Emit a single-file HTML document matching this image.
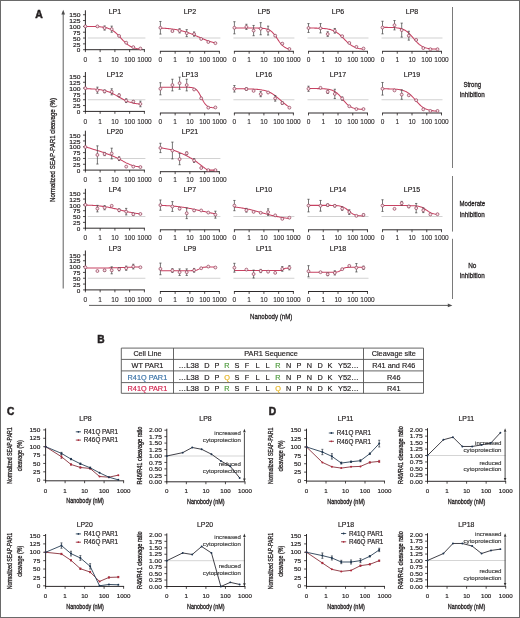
<!DOCTYPE html>
<html><head><meta charset="utf-8"><style>
html,body{margin:0;padding:0;background:#fff;}
svg{display:block;will-change:transform;}
text{font-family:"Liberation Sans",sans-serif;}
</style></head><body>
<svg width="520" height="618" viewBox="0 0 520 618" fill="#231f20">
<rect width="520" height="618" fill="#fff"/>
<text x="114.90" y="13.90" font-size="7.0" stroke="#231f20" stroke-width="0.18" text-anchor="middle" >LP1</text>
<line x1="87.80" y1="38.04" x2="145.40" y2="38.04" stroke="#d2d2d2" stroke-width="1.1" />
<line x1="84.95" y1="49.70" x2="144.90" y2="49.70" stroke="#231f20" stroke-width="0.95" />
<line x1="85.40" y1="49.70" x2="85.40" y2="52.10" stroke="#231f20" stroke-width="0.8" />
<text x="85.40" y="61.90" font-size="6.5" stroke="#231f20" stroke-width="0.1" text-anchor="middle" >0</text>
<line x1="100.15" y1="49.70" x2="100.15" y2="52.10" stroke="#231f20" stroke-width="0.8" />
<text x="100.15" y="61.90" font-size="6.5" stroke="#231f20" stroke-width="0.1" text-anchor="middle" >1</text>
<line x1="114.90" y1="49.70" x2="114.90" y2="52.10" stroke="#231f20" stroke-width="0.8" />
<text x="114.90" y="61.90" font-size="6.5" stroke="#231f20" stroke-width="0.1" text-anchor="middle" >10</text>
<line x1="129.65" y1="49.70" x2="129.65" y2="52.10" stroke="#231f20" stroke-width="0.8" />
<text x="129.65" y="61.90" font-size="6.5" stroke="#231f20" stroke-width="0.1" text-anchor="middle" >100</text>
<line x1="144.40" y1="49.70" x2="144.40" y2="52.10" stroke="#231f20" stroke-width="0.8" />
<text x="144.40" y="61.90" font-size="6.5" stroke="#231f20" stroke-width="0.1" text-anchor="middle" >1000</text>
<line x1="85.40" y1="50.15" x2="85.40" y2="10.30" stroke="#231f20" stroke-width="0.95" />
<line x1="83.00" y1="49.70" x2="85.40" y2="49.70" stroke="#231f20" stroke-width="0.8" />
<text x="80.40" y="52.40" font-size="6.0" stroke="#231f20" stroke-width="0.18" text-anchor="end" textLength="3.55" lengthAdjust="spacingAndGlyphs" >0</text>
<line x1="83.00" y1="43.87" x2="85.40" y2="43.87" stroke="#231f20" stroke-width="0.8" />
<text x="80.40" y="46.57" font-size="6.0" stroke="#231f20" stroke-width="0.18" text-anchor="end" textLength="7.40" lengthAdjust="spacingAndGlyphs" >25</text>
<line x1="83.00" y1="38.04" x2="85.40" y2="38.04" stroke="#231f20" stroke-width="0.8" />
<text x="80.40" y="40.74" font-size="6.0" stroke="#231f20" stroke-width="0.18" text-anchor="end" textLength="7.40" lengthAdjust="spacingAndGlyphs" >50</text>
<line x1="83.00" y1="32.21" x2="85.40" y2="32.21" stroke="#231f20" stroke-width="0.8" />
<text x="80.40" y="34.91" font-size="6.0" stroke="#231f20" stroke-width="0.18" text-anchor="end" textLength="7.40" lengthAdjust="spacingAndGlyphs" >75</text>
<line x1="83.00" y1="26.38" x2="85.40" y2="26.38" stroke="#231f20" stroke-width="0.8" />
<text x="80.40" y="29.08" font-size="6.0" stroke="#231f20" stroke-width="0.18" text-anchor="end" textLength="11.25" lengthAdjust="spacingAndGlyphs" >100</text>
<line x1="83.00" y1="20.55" x2="85.40" y2="20.55" stroke="#231f20" stroke-width="0.8" />
<text x="80.40" y="23.25" font-size="6.0" stroke="#231f20" stroke-width="0.18" text-anchor="end" textLength="11.25" lengthAdjust="spacingAndGlyphs" >125</text>
<line x1="83.00" y1="14.72" x2="85.40" y2="14.72" stroke="#231f20" stroke-width="0.8" />
<text x="80.40" y="17.42" font-size="6.0" stroke="#231f20" stroke-width="0.18" text-anchor="end" textLength="11.25" lengthAdjust="spacingAndGlyphs" >150</text>
<polyline points="85.40,26.41 86.32,26.42 87.23,26.42 88.15,26.43 89.07,26.44 89.98,26.45 90.90,26.46 91.82,26.48 92.73,26.50 93.65,26.52 94.57,26.55 95.48,26.58 96.40,26.61 97.32,26.66 98.23,26.71 99.15,26.77 100.07,26.84 100.98,26.93 101.90,27.03 102.82,27.14 103.73,27.28 104.65,27.44 105.57,27.63 106.48,27.85 107.40,28.10 108.32,28.40 109.23,28.74 110.15,29.13 111.07,29.57 111.98,30.07 112.90,30.64 113.82,31.27 114.73,31.97 115.65,32.73 116.57,33.55 117.48,34.43 118.40,35.36 119.32,36.32 120.23,37.31 121.15,38.31 122.07,39.31 122.98,40.29 123.90,41.23 124.82,42.14 125.73,42.99 126.65,43.78 127.57,44.50 128.48,45.16 129.40,45.76 130.32,46.29 131.23,46.76 132.15,47.17 133.07,47.53 133.98,47.85 134.90,48.12 135.82,48.36 136.73,48.56 137.65,48.73 138.57,48.88 139.48,49.00 140.40,49.11" fill="none" stroke="#c84262" stroke-width="1.05"/>
<circle cx="85.40" cy="26.38" r="1.45" fill="#fbe4e9" stroke="#8f3a55" stroke-width="0.7"/>
<circle cx="97.40" cy="26.38" r="1.45" fill="#fbe4e9" stroke="#8f3a55" stroke-width="0.7"/>
<path d="M104.60 25.91V30.11M103.50 25.91h2.2M103.50 30.11h2.2" stroke="#4a4a4a" stroke-width="0.75" fill="none"/>
<circle cx="104.60" cy="28.01" r="1.45" fill="#fbe4e9" stroke="#8f3a55" stroke-width="0.7"/>
<path d="M111.70 26.15V32.21M110.60 26.15h2.2M110.60 32.21h2.2" stroke="#4a4a4a" stroke-width="0.75" fill="none"/>
<circle cx="111.70" cy="29.18" r="1.45" fill="#fbe4e9" stroke="#8f3a55" stroke-width="0.7"/>
<circle cx="119.10" cy="35.94" r="1.45" fill="#fbe4e9" stroke="#8f3a55" stroke-width="0.7"/>
<circle cx="126.20" cy="42.70" r="1.45" fill="#fbe4e9" stroke="#8f3a55" stroke-width="0.7"/>
<circle cx="133.30" cy="47.13" r="1.45" fill="#fbe4e9" stroke="#8f3a55" stroke-width="0.7"/>
<circle cx="140.40" cy="48.53" r="1.45" fill="#fbe4e9" stroke="#8f3a55" stroke-width="0.7"/>
<text x="189.90" y="13.90" font-size="7.0" stroke="#231f20" stroke-width="0.18" text-anchor="middle" >LP2</text>
<line x1="159.40" y1="38.04" x2="220.40" y2="38.04" stroke="#d2d2d2" stroke-width="1.1" />
<line x1="159.95" y1="51.30" x2="219.90" y2="51.30" stroke="#231f20" stroke-width="0.95" />
<line x1="160.40" y1="51.30" x2="160.40" y2="53.70" stroke="#231f20" stroke-width="0.8" />
<text x="160.40" y="61.90" font-size="6.5" stroke="#231f20" stroke-width="0.1" text-anchor="middle" >0</text>
<line x1="175.15" y1="51.30" x2="175.15" y2="53.70" stroke="#231f20" stroke-width="0.8" />
<text x="175.15" y="61.90" font-size="6.5" stroke="#231f20" stroke-width="0.1" text-anchor="middle" >1</text>
<line x1="189.90" y1="51.30" x2="189.90" y2="53.70" stroke="#231f20" stroke-width="0.8" />
<text x="189.90" y="61.90" font-size="6.5" stroke="#231f20" stroke-width="0.1" text-anchor="middle" >10</text>
<line x1="204.65" y1="51.30" x2="204.65" y2="53.70" stroke="#231f20" stroke-width="0.8" />
<text x="204.65" y="61.90" font-size="6.5" stroke="#231f20" stroke-width="0.1" text-anchor="middle" >100</text>
<line x1="219.40" y1="51.30" x2="219.40" y2="53.70" stroke="#231f20" stroke-width="0.8" />
<text x="219.40" y="61.90" font-size="6.5" stroke="#231f20" stroke-width="0.1" text-anchor="middle" >1000</text>
<polyline points="160.40,28.06 161.32,28.11 162.23,28.16 163.15,28.21 164.07,28.27 164.98,28.33 165.90,28.39 166.82,28.47 167.73,28.54 168.65,28.63 169.57,28.72 170.48,28.82 171.40,28.92 172.32,29.04 173.23,29.16 174.15,29.29 175.07,29.43 175.98,29.58 176.90,29.74 177.82,29.91 178.73,30.10 179.65,30.29 180.57,30.50 181.48,30.72 182.40,30.95 183.32,31.20 184.23,31.46 185.15,31.73 186.07,32.01 186.98,32.31 187.90,32.62 188.82,32.95 189.73,33.28 190.65,33.63 191.57,33.99 192.48,34.35 193.40,34.73 194.32,35.11 195.23,35.50 196.15,35.89 197.07,36.29 197.98,36.69 198.90,37.09 199.82,37.49 200.73,37.89 201.65,38.28 202.57,38.67 203.48,39.05 204.40,39.43 205.32,39.79 206.23,40.15 207.15,40.50 208.07,40.83 208.98,41.15 209.90,41.46 210.82,41.76 211.73,42.04 212.65,42.31 213.57,42.57 214.48,42.82 215.40,43.05" fill="none" stroke="#c84262" stroke-width="1.05"/>
<path d="M160.40 21.48V34.08M159.30 21.48h2.2M159.30 34.08h2.2" stroke="#4a4a4a" stroke-width="0.75" fill="none"/>
<circle cx="160.40" cy="27.78" r="1.45" fill="#fbe4e9" stroke="#8f3a55" stroke-width="0.7"/>
<path d="M172.40 30.34V31.74M171.30 30.34h2.2M171.30 31.74h2.2" stroke="#4a4a4a" stroke-width="0.75" fill="none"/>
<circle cx="172.40" cy="31.04" r="1.45" fill="#fbe4e9" stroke="#8f3a55" stroke-width="0.7"/>
<path d="M179.60 28.71V32.91M178.50 28.71h2.2M178.50 32.91h2.2" stroke="#4a4a4a" stroke-width="0.75" fill="none"/>
<circle cx="179.60" cy="30.81" r="1.45" fill="#fbe4e9" stroke="#8f3a55" stroke-width="0.7"/>
<path d="M186.70 29.64V36.64M185.60 29.64h2.2M185.60 36.64h2.2" stroke="#4a4a4a" stroke-width="0.75" fill="none"/>
<circle cx="186.70" cy="33.14" r="1.45" fill="#fbe4e9" stroke="#8f3a55" stroke-width="0.7"/>
<path d="M194.10 31.98V36.17M193.00 31.98h2.2M193.00 36.17h2.2" stroke="#4a4a4a" stroke-width="0.75" fill="none"/>
<circle cx="194.10" cy="34.08" r="1.45" fill="#fbe4e9" stroke="#8f3a55" stroke-width="0.7"/>
<circle cx="201.20" cy="38.97" r="1.45" fill="#fbe4e9" stroke="#8f3a55" stroke-width="0.7"/>
<circle cx="208.30" cy="42.00" r="1.45" fill="#fbe4e9" stroke="#8f3a55" stroke-width="0.7"/>
<circle cx="215.40" cy="43.17" r="1.45" fill="#fbe4e9" stroke="#8f3a55" stroke-width="0.7"/>
<text x="263.90" y="13.90" font-size="7.0" stroke="#231f20" stroke-width="0.18" text-anchor="middle" >LP5</text>
<line x1="233.40" y1="38.04" x2="294.40" y2="38.04" stroke="#d2d2d2" stroke-width="1.1" />
<line x1="233.95" y1="51.30" x2="293.90" y2="51.30" stroke="#231f20" stroke-width="0.95" />
<line x1="234.40" y1="51.30" x2="234.40" y2="53.70" stroke="#231f20" stroke-width="0.8" />
<text x="234.40" y="61.90" font-size="6.5" stroke="#231f20" stroke-width="0.1" text-anchor="middle" >0</text>
<line x1="249.15" y1="51.30" x2="249.15" y2="53.70" stroke="#231f20" stroke-width="0.8" />
<text x="249.15" y="61.90" font-size="6.5" stroke="#231f20" stroke-width="0.1" text-anchor="middle" >1</text>
<line x1="263.90" y1="51.30" x2="263.90" y2="53.70" stroke="#231f20" stroke-width="0.8" />
<text x="263.90" y="61.90" font-size="6.5" stroke="#231f20" stroke-width="0.1" text-anchor="middle" >10</text>
<line x1="278.65" y1="51.30" x2="278.65" y2="53.70" stroke="#231f20" stroke-width="0.8" />
<text x="278.65" y="61.90" font-size="6.5" stroke="#231f20" stroke-width="0.1" text-anchor="middle" >100</text>
<line x1="293.40" y1="51.30" x2="293.40" y2="53.70" stroke="#231f20" stroke-width="0.8" />
<text x="293.40" y="61.90" font-size="6.5" stroke="#231f20" stroke-width="0.1" text-anchor="middle" >1000</text>
<polyline points="234.40,28.01 235.32,28.01 236.23,28.01 237.15,28.01 238.07,28.01 238.98,28.01 239.90,28.01 240.82,28.01 241.73,28.01 242.65,28.01 243.57,28.01 244.48,28.01 245.40,28.02 246.32,28.02 247.23,28.02 248.15,28.02 249.07,28.02 249.98,28.02 250.90,28.03 251.82,28.03 252.73,28.03 253.65,28.04 254.57,28.05 255.48,28.06 256.40,28.07 257.32,28.09 258.23,28.11 259.15,28.14 260.07,28.18 260.98,28.23 261.90,28.29 262.82,28.37 263.73,28.47 264.65,28.60 265.57,28.77 266.48,28.98 267.40,29.24 268.32,29.58 269.23,30.00 270.15,30.51 271.07,31.14 271.98,31.90 272.90,32.79 273.82,33.82 274.73,34.97 275.65,36.24 276.57,37.59 277.48,38.98 278.40,40.37 279.32,41.71 280.23,42.96 281.15,44.09 282.07,45.10 282.98,45.96 283.90,46.69 284.82,47.30 285.73,47.80 286.65,48.20 287.57,48.52 288.48,48.78 289.40,48.98" fill="none" stroke="#c84262" stroke-width="1.05"/>
<path d="M234.40 21.72V33.84M233.30 21.72h2.2M233.30 33.84h2.2" stroke="#4a4a4a" stroke-width="0.75" fill="none"/>
<circle cx="234.40" cy="27.78" r="1.45" fill="#fbe4e9" stroke="#8f3a55" stroke-width="0.7"/>
<path d="M246.40 24.28V29.41M245.30 24.28h2.2M245.30 29.41h2.2" stroke="#4a4a4a" stroke-width="0.75" fill="none"/>
<circle cx="246.40" cy="26.85" r="1.45" fill="#fbe4e9" stroke="#8f3a55" stroke-width="0.7"/>
<path d="M253.60 25.45V35.71M252.50 25.45h2.2M252.50 35.71h2.2" stroke="#4a4a4a" stroke-width="0.75" fill="none"/>
<circle cx="253.60" cy="30.58" r="1.45" fill="#fbe4e9" stroke="#8f3a55" stroke-width="0.7"/>
<path d="M260.70 22.65V34.78M259.60 22.65h2.2M259.60 34.78h2.2" stroke="#4a4a4a" stroke-width="0.75" fill="none"/>
<circle cx="260.70" cy="28.71" r="1.45" fill="#fbe4e9" stroke="#8f3a55" stroke-width="0.7"/>
<path d="M268.10 26.15V35.01M267.00 26.15h2.2M267.00 35.01h2.2" stroke="#4a4a4a" stroke-width="0.75" fill="none"/>
<circle cx="268.10" cy="30.58" r="1.45" fill="#fbe4e9" stroke="#8f3a55" stroke-width="0.7"/>
<path d="M275.20 35.01V36.41M274.10 35.01h2.2M274.10 36.41h2.2" stroke="#4a4a4a" stroke-width="0.75" fill="none"/>
<circle cx="275.20" cy="35.71" r="1.45" fill="#fbe4e9" stroke="#8f3a55" stroke-width="0.7"/>
<path d="M282.30 43.17V44.10M281.20 43.17h2.2M281.20 44.10h2.2" stroke="#4a4a4a" stroke-width="0.75" fill="none"/>
<circle cx="282.30" cy="43.64" r="1.45" fill="#fbe4e9" stroke="#8f3a55" stroke-width="0.7"/>
<circle cx="289.40" cy="49.00" r="1.45" fill="#fbe4e9" stroke="#8f3a55" stroke-width="0.7"/>
<text x="338.00" y="13.90" font-size="7.0" stroke="#231f20" stroke-width="0.18" text-anchor="middle" >LP6</text>
<line x1="307.50" y1="38.04" x2="368.50" y2="38.04" stroke="#d2d2d2" stroke-width="1.1" />
<line x1="308.05" y1="51.30" x2="368.00" y2="51.30" stroke="#231f20" stroke-width="0.95" />
<line x1="308.50" y1="51.30" x2="308.50" y2="53.70" stroke="#231f20" stroke-width="0.8" />
<text x="308.50" y="61.90" font-size="6.5" stroke="#231f20" stroke-width="0.1" text-anchor="middle" >0</text>
<line x1="323.25" y1="51.30" x2="323.25" y2="53.70" stroke="#231f20" stroke-width="0.8" />
<text x="323.25" y="61.90" font-size="6.5" stroke="#231f20" stroke-width="0.1" text-anchor="middle" >1</text>
<line x1="338.00" y1="51.30" x2="338.00" y2="53.70" stroke="#231f20" stroke-width="0.8" />
<text x="338.00" y="61.90" font-size="6.5" stroke="#231f20" stroke-width="0.1" text-anchor="middle" >10</text>
<line x1="352.75" y1="51.30" x2="352.75" y2="53.70" stroke="#231f20" stroke-width="0.8" />
<text x="352.75" y="61.90" font-size="6.5" stroke="#231f20" stroke-width="0.1" text-anchor="middle" >100</text>
<line x1="367.50" y1="51.30" x2="367.50" y2="53.70" stroke="#231f20" stroke-width="0.8" />
<text x="367.50" y="61.90" font-size="6.5" stroke="#231f20" stroke-width="0.1" text-anchor="middle" >1000</text>
<polyline points="308.50,28.04 309.42,28.05 310.33,28.05 311.25,28.06 312.17,28.07 313.08,28.08 314.00,28.09 314.92,28.11 315.83,28.12 316.75,28.14 317.67,28.17 318.58,28.20 319.50,28.23 320.42,28.27 321.33,28.32 322.25,28.37 323.17,28.44 324.08,28.52 325.00,28.61 325.92,28.72 326.83,28.85 327.75,29.00 328.67,29.17 329.58,29.38 330.50,29.61 331.42,29.89 332.33,30.20 333.25,30.57 334.17,30.98 335.08,31.45 336.00,31.97 336.92,32.56 337.83,33.21 338.75,33.92 339.67,34.68 340.58,35.50 341.50,36.36 342.42,37.26 343.33,38.18 344.25,39.11 345.17,40.04 346.08,40.95 347.00,41.83 347.92,42.66 348.83,43.46 349.75,44.19 350.67,44.87 351.58,45.48 352.50,46.03 353.42,46.53 354.33,46.96 355.25,47.35 356.17,47.69 357.08,47.98 358.00,48.23 358.92,48.45 359.83,48.64 360.75,48.80 361.67,48.94 362.58,49.05 363.50,49.15" fill="none" stroke="#c84262" stroke-width="1.05"/>
<path d="M308.50 23.58V32.44M307.40 23.58h2.2M307.40 32.44h2.2" stroke="#4a4a4a" stroke-width="0.75" fill="none"/>
<circle cx="308.50" cy="28.01" r="1.45" fill="#fbe4e9" stroke="#8f3a55" stroke-width="0.7"/>
<path d="M320.50 23.58V32.91M319.40 23.58h2.2M319.40 32.91h2.2" stroke="#4a4a4a" stroke-width="0.75" fill="none"/>
<circle cx="320.50" cy="28.25" r="1.45" fill="#fbe4e9" stroke="#8f3a55" stroke-width="0.7"/>
<path d="M327.70 31.74V36.41M326.60 31.74h2.2M326.60 36.41h2.2" stroke="#4a4a4a" stroke-width="0.75" fill="none"/>
<circle cx="327.70" cy="34.08" r="1.45" fill="#fbe4e9" stroke="#8f3a55" stroke-width="0.7"/>
<path d="M334.80 28.48V33.14M333.70 28.48h2.2M333.70 33.14h2.2" stroke="#4a4a4a" stroke-width="0.75" fill="none"/>
<circle cx="334.80" cy="30.81" r="1.45" fill="#fbe4e9" stroke="#8f3a55" stroke-width="0.7"/>
<circle cx="342.20" cy="36.17" r="1.45" fill="#fbe4e9" stroke="#8f3a55" stroke-width="0.7"/>
<circle cx="349.30" cy="42.94" r="1.45" fill="#fbe4e9" stroke="#8f3a55" stroke-width="0.7"/>
<circle cx="356.40" cy="46.90" r="1.45" fill="#fbe4e9" stroke="#8f3a55" stroke-width="0.7"/>
<circle cx="363.50" cy="48.53" r="1.45" fill="#fbe4e9" stroke="#8f3a55" stroke-width="0.7"/>
<text x="412.00" y="13.90" font-size="7.0" stroke="#231f20" stroke-width="0.18" text-anchor="middle" >LP8</text>
<line x1="381.50" y1="38.04" x2="442.50" y2="38.04" stroke="#d2d2d2" stroke-width="1.1" />
<line x1="382.05" y1="51.30" x2="442.00" y2="51.30" stroke="#231f20" stroke-width="0.95" />
<line x1="382.50" y1="51.30" x2="382.50" y2="53.70" stroke="#231f20" stroke-width="0.8" />
<text x="382.50" y="61.90" font-size="6.5" stroke="#231f20" stroke-width="0.1" text-anchor="middle" >0</text>
<line x1="397.25" y1="51.30" x2="397.25" y2="53.70" stroke="#231f20" stroke-width="0.8" />
<text x="397.25" y="61.90" font-size="6.5" stroke="#231f20" stroke-width="0.1" text-anchor="middle" >1</text>
<line x1="412.00" y1="51.30" x2="412.00" y2="53.70" stroke="#231f20" stroke-width="0.8" />
<text x="412.00" y="61.90" font-size="6.5" stroke="#231f20" stroke-width="0.1" text-anchor="middle" >10</text>
<line x1="426.75" y1="51.30" x2="426.75" y2="53.70" stroke="#231f20" stroke-width="0.8" />
<text x="426.75" y="61.90" font-size="6.5" stroke="#231f20" stroke-width="0.1" text-anchor="middle" >100</text>
<line x1="441.50" y1="51.30" x2="441.50" y2="53.70" stroke="#231f20" stroke-width="0.8" />
<text x="441.50" y="61.90" font-size="6.5" stroke="#231f20" stroke-width="0.1" text-anchor="middle" >1000</text>
<polyline points="382.50,27.34 383.42,27.34 384.33,27.35 385.25,27.36 386.17,27.37 387.08,27.38 388.00,27.40 388.92,27.41 389.83,27.44 390.75,27.46 391.67,27.50 392.58,27.54 393.50,27.59 394.42,27.65 395.33,27.72 396.25,27.81 397.17,27.91 398.08,28.04 399.00,28.20 399.92,28.38 400.83,28.61 401.75,28.87 402.67,29.19 403.58,29.56 404.50,30.00 405.42,30.51 406.33,31.10 407.25,31.77 408.17,32.52 409.08,33.36 410.00,34.27 410.92,35.26 411.83,36.30 412.75,37.38 413.67,38.47 414.58,39.56 415.50,40.63 416.42,41.65 417.33,42.61 418.25,43.50 419.17,44.31 420.08,45.03 421.00,45.67 421.92,46.23 422.83,46.71 423.75,47.12 424.67,47.48 425.58,47.77 426.50,48.02 427.42,48.23 428.33,48.41 429.25,48.55 430.17,48.67 431.08,48.77 432.00,48.86 432.92,48.92 433.83,48.98 434.75,49.02 435.67,49.06 436.58,49.09 437.50,49.12" fill="none" stroke="#c84262" stroke-width="1.05"/>
<path d="M382.50 21.25V33.84M381.40 21.25h2.2M381.40 33.84h2.2" stroke="#4a4a4a" stroke-width="0.75" fill="none"/>
<circle cx="382.50" cy="27.55" r="1.45" fill="#fbe4e9" stroke="#8f3a55" stroke-width="0.7"/>
<path d="M394.50 20.55V29.88M393.40 20.55h2.2M393.40 29.88h2.2" stroke="#4a4a4a" stroke-width="0.75" fill="none"/>
<circle cx="394.50" cy="25.21" r="1.45" fill="#fbe4e9" stroke="#8f3a55" stroke-width="0.7"/>
<path d="M401.70 23.12V37.11M400.60 23.12h2.2M400.60 37.11h2.2" stroke="#4a4a4a" stroke-width="0.75" fill="none"/>
<circle cx="401.70" cy="30.11" r="1.45" fill="#fbe4e9" stroke="#8f3a55" stroke-width="0.7"/>
<path d="M408.80 31.28V40.14M407.70 31.28h2.2M407.70 40.14h2.2" stroke="#4a4a4a" stroke-width="0.75" fill="none"/>
<circle cx="408.80" cy="35.71" r="1.45" fill="#fbe4e9" stroke="#8f3a55" stroke-width="0.7"/>
<circle cx="416.20" cy="39.91" r="1.45" fill="#fbe4e9" stroke="#8f3a55" stroke-width="0.7"/>
<circle cx="423.30" cy="48.07" r="1.45" fill="#fbe4e9" stroke="#8f3a55" stroke-width="0.7"/>
<circle cx="430.40" cy="49.23" r="1.45" fill="#fbe4e9" stroke="#8f3a55" stroke-width="0.7"/>
<circle cx="437.50" cy="49.23" r="1.45" fill="#fbe4e9" stroke="#8f3a55" stroke-width="0.7"/>
<text x="114.90" y="76.50" font-size="7.0" stroke="#231f20" stroke-width="0.18" text-anchor="middle" >LP12</text>
<line x1="87.80" y1="99.74" x2="145.40" y2="99.74" stroke="#d2d2d2" stroke-width="1.1" />
<line x1="84.95" y1="111.40" x2="144.90" y2="111.40" stroke="#231f20" stroke-width="0.95" />
<line x1="85.40" y1="111.40" x2="85.40" y2="113.80" stroke="#231f20" stroke-width="0.8" />
<text x="85.40" y="123.60" font-size="6.5" stroke="#231f20" stroke-width="0.1" text-anchor="middle" >0</text>
<line x1="100.15" y1="111.40" x2="100.15" y2="113.80" stroke="#231f20" stroke-width="0.8" />
<text x="100.15" y="123.60" font-size="6.5" stroke="#231f20" stroke-width="0.1" text-anchor="middle" >1</text>
<line x1="114.90" y1="111.40" x2="114.90" y2="113.80" stroke="#231f20" stroke-width="0.8" />
<text x="114.90" y="123.60" font-size="6.5" stroke="#231f20" stroke-width="0.1" text-anchor="middle" >10</text>
<line x1="129.65" y1="111.40" x2="129.65" y2="113.80" stroke="#231f20" stroke-width="0.8" />
<text x="129.65" y="123.60" font-size="6.5" stroke="#231f20" stroke-width="0.1" text-anchor="middle" >100</text>
<line x1="144.40" y1="111.40" x2="144.40" y2="113.80" stroke="#231f20" stroke-width="0.8" />
<text x="144.40" y="123.60" font-size="6.5" stroke="#231f20" stroke-width="0.1" text-anchor="middle" >1000</text>
<line x1="85.40" y1="111.85" x2="85.40" y2="72.00" stroke="#231f20" stroke-width="0.95" />
<line x1="83.00" y1="111.40" x2="85.40" y2="111.40" stroke="#231f20" stroke-width="0.8" />
<text x="80.40" y="114.10" font-size="6.0" stroke="#231f20" stroke-width="0.18" text-anchor="end" textLength="3.55" lengthAdjust="spacingAndGlyphs" >0</text>
<line x1="83.00" y1="105.57" x2="85.40" y2="105.57" stroke="#231f20" stroke-width="0.8" />
<text x="80.40" y="108.27" font-size="6.0" stroke="#231f20" stroke-width="0.18" text-anchor="end" textLength="7.40" lengthAdjust="spacingAndGlyphs" >25</text>
<line x1="83.00" y1="99.74" x2="85.40" y2="99.74" stroke="#231f20" stroke-width="0.8" />
<text x="80.40" y="102.44" font-size="6.0" stroke="#231f20" stroke-width="0.18" text-anchor="end" textLength="7.40" lengthAdjust="spacingAndGlyphs" >50</text>
<line x1="83.00" y1="93.91" x2="85.40" y2="93.91" stroke="#231f20" stroke-width="0.8" />
<text x="80.40" y="96.61" font-size="6.0" stroke="#231f20" stroke-width="0.18" text-anchor="end" textLength="7.40" lengthAdjust="spacingAndGlyphs" >75</text>
<line x1="83.00" y1="88.08" x2="85.40" y2="88.08" stroke="#231f20" stroke-width="0.8" />
<text x="80.40" y="90.78" font-size="6.0" stroke="#231f20" stroke-width="0.18" text-anchor="end" textLength="11.25" lengthAdjust="spacingAndGlyphs" >100</text>
<line x1="83.00" y1="82.25" x2="85.40" y2="82.25" stroke="#231f20" stroke-width="0.8" />
<text x="80.40" y="84.95" font-size="6.0" stroke="#231f20" stroke-width="0.18" text-anchor="end" textLength="11.25" lengthAdjust="spacingAndGlyphs" >125</text>
<line x1="83.00" y1="76.42" x2="85.40" y2="76.42" stroke="#231f20" stroke-width="0.8" />
<text x="80.40" y="79.12" font-size="6.0" stroke="#231f20" stroke-width="0.18" text-anchor="end" textLength="11.25" lengthAdjust="spacingAndGlyphs" >150</text>
<polyline points="85.40,88.70 86.32,88.72 87.23,88.75 88.15,88.78 89.07,88.81 89.98,88.84 90.90,88.88 91.82,88.93 92.73,88.98 93.65,89.04 94.57,89.10 95.48,89.17 96.40,89.26 97.32,89.35 98.23,89.45 99.15,89.57 100.07,89.70 100.98,89.85 101.90,90.01 102.82,90.19 103.73,90.39 104.65,90.61 105.57,90.86 106.48,91.12 107.40,91.42 108.32,91.73 109.23,92.08 110.15,92.45 111.07,92.84 111.98,93.26 112.90,93.70 113.82,94.17 114.73,94.65 115.65,95.15 116.57,95.66 117.48,96.18 118.40,96.71 119.32,97.23 120.23,97.75 121.15,98.27 122.07,98.77 122.98,99.25 123.90,99.71 124.82,100.16 125.73,100.58 126.65,100.97 127.57,101.34 128.48,101.68 129.40,102.00 130.32,102.29 131.23,102.56 132.15,102.80 133.07,103.03 133.98,103.23 134.90,103.41 135.82,103.57 136.73,103.72 137.65,103.85 138.57,103.96 139.48,104.07 140.40,104.16" fill="none" stroke="#c84262" stroke-width="1.05"/>
<circle cx="85.40" cy="88.20" r="1.45" fill="#fbe4e9" stroke="#8f3a55" stroke-width="0.7"/>
<path d="M97.40 87.15V93.21M96.30 87.15h2.2M96.30 93.21h2.2" stroke="#4a4a4a" stroke-width="0.75" fill="none"/>
<circle cx="97.40" cy="90.18" r="1.45" fill="#fbe4e9" stroke="#8f3a55" stroke-width="0.7"/>
<path d="M104.60 89.95V92.74M103.50 89.95h2.2M103.50 92.74h2.2" stroke="#4a4a4a" stroke-width="0.75" fill="none"/>
<circle cx="104.60" cy="91.34" r="1.45" fill="#fbe4e9" stroke="#8f3a55" stroke-width="0.7"/>
<path d="M111.70 88.78V94.84M110.60 88.78h2.2M110.60 94.84h2.2" stroke="#4a4a4a" stroke-width="0.75" fill="none"/>
<circle cx="111.70" cy="91.81" r="1.45" fill="#fbe4e9" stroke="#8f3a55" stroke-width="0.7"/>
<path d="M119.10 93.91V96.71M118.00 93.91h2.2M118.00 96.71h2.2" stroke="#4a4a4a" stroke-width="0.75" fill="none"/>
<circle cx="119.10" cy="95.31" r="1.45" fill="#fbe4e9" stroke="#8f3a55" stroke-width="0.7"/>
<path d="M126.20 98.81V102.54M125.10 98.81h2.2M125.10 102.54h2.2" stroke="#4a4a4a" stroke-width="0.75" fill="none"/>
<circle cx="126.20" cy="100.67" r="1.45" fill="#fbe4e9" stroke="#8f3a55" stroke-width="0.7"/>
<path d="M133.30 100.67V102.54M132.20 100.67h2.2M132.20 102.54h2.2" stroke="#4a4a4a" stroke-width="0.75" fill="none"/>
<circle cx="133.30" cy="101.61" r="1.45" fill="#fbe4e9" stroke="#8f3a55" stroke-width="0.7"/>
<path d="M140.40 101.14V106.74M139.30 101.14h2.2M139.30 106.74h2.2" stroke="#4a4a4a" stroke-width="0.75" fill="none"/>
<circle cx="140.40" cy="103.94" r="1.45" fill="#fbe4e9" stroke="#8f3a55" stroke-width="0.7"/>
<text x="189.90" y="76.50" font-size="7.0" stroke="#231f20" stroke-width="0.18" text-anchor="middle" >LP13</text>
<line x1="159.40" y1="99.74" x2="220.40" y2="99.74" stroke="#d2d2d2" stroke-width="1.1" />
<line x1="159.95" y1="113.00" x2="219.90" y2="113.00" stroke="#231f20" stroke-width="0.95" />
<line x1="160.40" y1="113.00" x2="160.40" y2="115.40" stroke="#231f20" stroke-width="0.8" />
<text x="160.40" y="123.60" font-size="6.5" stroke="#231f20" stroke-width="0.1" text-anchor="middle" >0</text>
<line x1="175.15" y1="113.00" x2="175.15" y2="115.40" stroke="#231f20" stroke-width="0.8" />
<text x="175.15" y="123.60" font-size="6.5" stroke="#231f20" stroke-width="0.1" text-anchor="middle" >1</text>
<line x1="189.90" y1="113.00" x2="189.90" y2="115.40" stroke="#231f20" stroke-width="0.8" />
<text x="189.90" y="123.60" font-size="6.5" stroke="#231f20" stroke-width="0.1" text-anchor="middle" >10</text>
<line x1="204.65" y1="113.00" x2="204.65" y2="115.40" stroke="#231f20" stroke-width="0.8" />
<text x="204.65" y="123.60" font-size="6.5" stroke="#231f20" stroke-width="0.1" text-anchor="middle" >100</text>
<line x1="219.40" y1="113.00" x2="219.40" y2="115.40" stroke="#231f20" stroke-width="0.8" />
<text x="219.40" y="123.60" font-size="6.5" stroke="#231f20" stroke-width="0.1" text-anchor="middle" >1000</text>
<polyline points="160.40,87.15 161.32,87.15 162.23,87.15 163.15,87.15 164.07,87.15 164.98,87.15 165.90,87.15 166.82,87.15 167.73,87.15 168.65,87.15 169.57,87.15 170.48,87.15 171.40,87.15 172.32,87.15 173.23,87.15 174.15,87.15 175.07,87.15 175.98,87.15 176.90,87.15 177.82,87.15 178.73,87.15 179.65,87.15 180.57,87.15 181.48,87.16 182.40,87.16 183.32,87.17 184.23,87.17 185.15,87.18 186.07,87.20 186.98,87.22 187.90,87.25 188.82,87.30 189.73,87.36 190.65,87.46 191.57,87.58 192.48,87.77 193.40,88.02 194.32,88.38 195.23,88.86 196.15,89.52 197.07,90.38 197.98,91.48 198.90,92.83 199.82,94.42 200.73,96.18 201.65,98.03 202.57,99.85 203.48,101.53 204.40,102.99 205.32,104.20 206.23,105.17 207.15,105.91 208.07,106.47 208.98,106.88 209.90,107.18 210.82,107.39 211.73,107.54 212.65,107.65 213.57,107.72 214.48,107.78 215.40,107.81" fill="none" stroke="#c84262" stroke-width="1.05"/>
<path d="M160.40 82.72V94.84M159.30 82.72h2.2M159.30 94.84h2.2" stroke="#4a4a4a" stroke-width="0.75" fill="none"/>
<circle cx="160.40" cy="88.78" r="1.45" fill="#fbe4e9" stroke="#8f3a55" stroke-width="0.7"/>
<path d="M172.40 79.22V90.88M171.30 79.22h2.2M171.30 90.88h2.2" stroke="#4a4a4a" stroke-width="0.75" fill="none"/>
<circle cx="172.40" cy="85.05" r="1.45" fill="#fbe4e9" stroke="#8f3a55" stroke-width="0.7"/>
<path d="M179.60 77.12V89.25M178.50 77.12h2.2M178.50 89.25h2.2" stroke="#4a4a4a" stroke-width="0.75" fill="none"/>
<circle cx="179.60" cy="83.18" r="1.45" fill="#fbe4e9" stroke="#8f3a55" stroke-width="0.7"/>
<path d="M186.70 79.22V90.88M185.60 79.22h2.2M185.60 90.88h2.2" stroke="#4a4a4a" stroke-width="0.75" fill="none"/>
<circle cx="186.70" cy="85.05" r="1.45" fill="#fbe4e9" stroke="#8f3a55" stroke-width="0.7"/>
<circle cx="194.10" cy="89.48" r="1.45" fill="#fbe4e9" stroke="#8f3a55" stroke-width="0.7"/>
<circle cx="201.20" cy="98.34" r="1.45" fill="#fbe4e9" stroke="#8f3a55" stroke-width="0.7"/>
<circle cx="208.30" cy="107.67" r="1.45" fill="#fbe4e9" stroke="#8f3a55" stroke-width="0.7"/>
<circle cx="215.40" cy="107.44" r="1.45" fill="#fbe4e9" stroke="#8f3a55" stroke-width="0.7"/>
<text x="263.90" y="76.50" font-size="7.0" stroke="#231f20" stroke-width="0.18" text-anchor="middle" >LP16</text>
<line x1="233.40" y1="99.74" x2="294.40" y2="99.74" stroke="#d2d2d2" stroke-width="1.1" />
<line x1="233.95" y1="113.00" x2="293.90" y2="113.00" stroke="#231f20" stroke-width="0.95" />
<line x1="234.40" y1="113.00" x2="234.40" y2="115.40" stroke="#231f20" stroke-width="0.8" />
<text x="234.40" y="123.60" font-size="6.5" stroke="#231f20" stroke-width="0.1" text-anchor="middle" >0</text>
<line x1="249.15" y1="113.00" x2="249.15" y2="115.40" stroke="#231f20" stroke-width="0.8" />
<text x="249.15" y="123.60" font-size="6.5" stroke="#231f20" stroke-width="0.1" text-anchor="middle" >1</text>
<line x1="263.90" y1="113.00" x2="263.90" y2="115.40" stroke="#231f20" stroke-width="0.8" />
<text x="263.90" y="123.60" font-size="6.5" stroke="#231f20" stroke-width="0.1" text-anchor="middle" >10</text>
<line x1="278.65" y1="113.00" x2="278.65" y2="115.40" stroke="#231f20" stroke-width="0.8" />
<text x="278.65" y="123.60" font-size="6.5" stroke="#231f20" stroke-width="0.1" text-anchor="middle" >100</text>
<line x1="293.40" y1="113.00" x2="293.40" y2="115.40" stroke="#231f20" stroke-width="0.8" />
<text x="293.40" y="123.60" font-size="6.5" stroke="#231f20" stroke-width="0.1" text-anchor="middle" >1000</text>
<polyline points="234.40,88.80 235.32,88.80 236.23,88.80 237.15,88.81 238.07,88.81 238.98,88.81 239.90,88.82 240.82,88.83 241.73,88.83 242.65,88.84 243.57,88.85 244.48,88.86 245.40,88.88 246.32,88.89 247.23,88.91 248.15,88.93 249.07,88.95 249.98,88.97 250.90,89.00 251.82,89.04 252.73,89.08 253.65,89.12 254.57,89.17 255.48,89.23 256.40,89.30 257.32,89.38 258.23,89.47 259.15,89.57 260.07,89.69 260.98,89.82 261.90,89.97 262.82,90.15 263.73,90.34 264.65,90.56 265.57,90.81 266.48,91.09 267.40,91.41 268.32,91.76 269.23,92.15 270.15,92.58 271.07,93.05 271.98,93.57 272.90,94.13 273.82,94.74 274.73,95.39 275.65,96.08 276.57,96.80 277.48,97.56 278.40,98.34 279.32,99.14 280.23,99.94 281.15,100.75 282.07,101.55 282.98,102.34 283.90,103.10 284.82,103.84 285.73,104.54 286.65,105.21 287.57,105.83 288.48,106.41 289.40,106.94" fill="none" stroke="#c84262" stroke-width="1.05"/>
<path d="M234.40 85.51V92.04M233.30 85.51h2.2M233.30 92.04h2.2" stroke="#4a4a4a" stroke-width="0.75" fill="none"/>
<circle cx="234.40" cy="88.78" r="1.45" fill="#fbe4e9" stroke="#8f3a55" stroke-width="0.7"/>
<path d="M246.40 87.61V90.41M245.30 87.61h2.2M245.30 90.41h2.2" stroke="#4a4a4a" stroke-width="0.75" fill="none"/>
<circle cx="246.40" cy="89.01" r="1.45" fill="#fbe4e9" stroke="#8f3a55" stroke-width="0.7"/>
<circle cx="253.60" cy="90.88" r="1.45" fill="#fbe4e9" stroke="#8f3a55" stroke-width="0.7"/>
<path d="M260.70 91.58V96.71M259.60 91.58h2.2M259.60 96.71h2.2" stroke="#4a4a4a" stroke-width="0.75" fill="none"/>
<circle cx="260.70" cy="94.14" r="1.45" fill="#fbe4e9" stroke="#8f3a55" stroke-width="0.7"/>
<circle cx="268.10" cy="92.51" r="1.45" fill="#fbe4e9" stroke="#8f3a55" stroke-width="0.7"/>
<path d="M275.20 95.54V101.14M274.10 95.54h2.2M274.10 101.14h2.2" stroke="#4a4a4a" stroke-width="0.75" fill="none"/>
<circle cx="275.20" cy="98.34" r="1.45" fill="#fbe4e9" stroke="#8f3a55" stroke-width="0.7"/>
<path d="M282.30 101.61V104.40M281.20 101.61h2.2M281.20 104.40h2.2" stroke="#4a4a4a" stroke-width="0.75" fill="none"/>
<circle cx="282.30" cy="103.00" r="1.45" fill="#fbe4e9" stroke="#8f3a55" stroke-width="0.7"/>
<circle cx="289.40" cy="107.67" r="1.45" fill="#fbe4e9" stroke="#8f3a55" stroke-width="0.7"/>
<text x="338.00" y="76.50" font-size="7.0" stroke="#231f20" stroke-width="0.18" text-anchor="middle" >LP17</text>
<line x1="307.50" y1="99.74" x2="368.50" y2="99.74" stroke="#d2d2d2" stroke-width="1.1" />
<line x1="308.05" y1="113.00" x2="368.00" y2="113.00" stroke="#231f20" stroke-width="0.95" />
<line x1="308.50" y1="113.00" x2="308.50" y2="115.40" stroke="#231f20" stroke-width="0.8" />
<text x="308.50" y="123.60" font-size="6.5" stroke="#231f20" stroke-width="0.1" text-anchor="middle" >0</text>
<line x1="323.25" y1="113.00" x2="323.25" y2="115.40" stroke="#231f20" stroke-width="0.8" />
<text x="323.25" y="123.60" font-size="6.5" stroke="#231f20" stroke-width="0.1" text-anchor="middle" >1</text>
<line x1="338.00" y1="113.00" x2="338.00" y2="115.40" stroke="#231f20" stroke-width="0.8" />
<text x="338.00" y="123.60" font-size="6.5" stroke="#231f20" stroke-width="0.1" text-anchor="middle" >10</text>
<line x1="352.75" y1="113.00" x2="352.75" y2="115.40" stroke="#231f20" stroke-width="0.8" />
<text x="352.75" y="123.60" font-size="6.5" stroke="#231f20" stroke-width="0.1" text-anchor="middle" >100</text>
<line x1="367.50" y1="113.00" x2="367.50" y2="115.40" stroke="#231f20" stroke-width="0.8" />
<text x="367.50" y="123.60" font-size="6.5" stroke="#231f20" stroke-width="0.1" text-anchor="middle" >1000</text>
<polyline points="308.50,88.55 309.42,88.56 310.33,88.56 311.25,88.56 312.17,88.56 313.08,88.57 314.00,88.57 314.92,88.58 315.83,88.59 316.75,88.60 317.67,88.61 318.58,88.62 319.50,88.64 320.42,88.66 321.33,88.69 322.25,88.73 323.17,88.77 324.08,88.82 325.00,88.89 325.92,88.97 326.83,89.07 327.75,89.19 328.67,89.34 329.58,89.52 330.50,89.74 331.42,90.00 332.33,90.32 333.25,90.70 334.17,91.16 335.08,91.69 336.00,92.31 336.92,93.02 337.83,93.82 338.75,94.71 339.67,95.68 340.58,96.72 341.50,97.82 342.42,98.94 343.33,100.06 344.25,101.16 345.17,102.21 346.08,103.20 347.00,104.11 347.92,104.93 348.83,105.65 349.75,106.29 350.67,106.83 351.58,107.30 352.50,107.69 353.42,108.02 354.33,108.30 355.25,108.53 356.17,108.71 357.08,108.87 358.00,108.99 358.92,109.09 359.83,109.18 360.75,109.25 361.67,109.30 362.58,109.35 363.50,109.38" fill="none" stroke="#c84262" stroke-width="1.05"/>
<path d="M308.50 86.21V91.34M307.40 86.21h2.2M307.40 91.34h2.2" stroke="#4a4a4a" stroke-width="0.75" fill="none"/>
<circle cx="308.50" cy="88.78" r="1.45" fill="#fbe4e9" stroke="#8f3a55" stroke-width="0.7"/>
<circle cx="320.50" cy="87.85" r="1.45" fill="#fbe4e9" stroke="#8f3a55" stroke-width="0.7"/>
<path d="M327.70 90.18V93.44M326.60 90.18h2.2M326.60 93.44h2.2" stroke="#4a4a4a" stroke-width="0.75" fill="none"/>
<circle cx="327.70" cy="91.81" r="1.45" fill="#fbe4e9" stroke="#8f3a55" stroke-width="0.7"/>
<path d="M334.80 89.25V98.57M333.70 89.25h2.2M333.70 98.57h2.2" stroke="#4a4a4a" stroke-width="0.75" fill="none"/>
<circle cx="334.80" cy="93.91" r="1.45" fill="#fbe4e9" stroke="#8f3a55" stroke-width="0.7"/>
<path d="M342.20 96.94V100.21M341.10 96.94h2.2M341.10 100.21h2.2" stroke="#4a4a4a" stroke-width="0.75" fill="none"/>
<circle cx="342.20" cy="98.57" r="1.45" fill="#fbe4e9" stroke="#8f3a55" stroke-width="0.7"/>
<circle cx="349.30" cy="106.27" r="1.45" fill="#fbe4e9" stroke="#8f3a55" stroke-width="0.7"/>
<circle cx="356.40" cy="109.07" r="1.45" fill="#fbe4e9" stroke="#8f3a55" stroke-width="0.7"/>
<circle cx="363.50" cy="109.07" r="1.45" fill="#fbe4e9" stroke="#8f3a55" stroke-width="0.7"/>
<text x="412.00" y="76.50" font-size="7.0" stroke="#231f20" stroke-width="0.18" text-anchor="middle" >LP19</text>
<line x1="381.50" y1="99.74" x2="442.50" y2="99.74" stroke="#d2d2d2" stroke-width="1.1" />
<line x1="382.05" y1="113.00" x2="442.00" y2="113.00" stroke="#231f20" stroke-width="0.95" />
<line x1="382.50" y1="113.00" x2="382.50" y2="115.40" stroke="#231f20" stroke-width="0.8" />
<text x="382.50" y="123.60" font-size="6.5" stroke="#231f20" stroke-width="0.1" text-anchor="middle" >0</text>
<line x1="397.25" y1="113.00" x2="397.25" y2="115.40" stroke="#231f20" stroke-width="0.8" />
<text x="397.25" y="123.60" font-size="6.5" stroke="#231f20" stroke-width="0.1" text-anchor="middle" >1</text>
<line x1="412.00" y1="113.00" x2="412.00" y2="115.40" stroke="#231f20" stroke-width="0.8" />
<text x="412.00" y="123.60" font-size="6.5" stroke="#231f20" stroke-width="0.1" text-anchor="middle" >10</text>
<line x1="426.75" y1="113.00" x2="426.75" y2="115.40" stroke="#231f20" stroke-width="0.8" />
<text x="426.75" y="123.60" font-size="6.5" stroke="#231f20" stroke-width="0.1" text-anchor="middle" >100</text>
<line x1="441.50" y1="113.00" x2="441.50" y2="115.40" stroke="#231f20" stroke-width="0.8" />
<text x="441.50" y="123.60" font-size="6.5" stroke="#231f20" stroke-width="0.1" text-anchor="middle" >1000</text>
<polyline points="382.50,88.81 383.42,88.81 384.33,88.82 385.25,88.83 386.17,88.84 387.08,88.85 388.00,88.86 388.92,88.88 389.83,88.90 390.75,88.93 391.67,88.96 392.58,88.99 393.50,89.04 394.42,89.09 395.33,89.15 396.25,89.23 397.17,89.31 398.08,89.42 399.00,89.55 399.92,89.70 400.83,89.88 401.75,90.09 402.67,90.34 403.58,90.63 404.50,90.97 405.42,91.37 406.33,91.83 407.25,92.35 408.17,92.95 409.08,93.62 410.00,94.36 410.92,95.18 411.83,96.07 412.75,97.01 413.67,98.01 414.58,99.04 415.50,100.09 416.42,101.14 417.33,102.17 418.25,103.17 419.17,104.11 420.08,105.00 421.00,105.82 421.92,106.56 422.83,107.23 423.75,107.83 424.67,108.35 425.58,108.81 426.50,109.21 427.42,109.55 428.33,109.84 429.25,110.09 430.17,110.30 431.08,110.48 432.00,110.63 432.92,110.76 433.83,110.87 434.75,110.95 435.67,111.03 436.58,111.09 437.50,111.14" fill="none" stroke="#c84262" stroke-width="1.05"/>
<path d="M382.50 82.48V95.08M381.40 82.48h2.2M381.40 95.08h2.2" stroke="#4a4a4a" stroke-width="0.75" fill="none"/>
<circle cx="382.50" cy="88.78" r="1.45" fill="#fbe4e9" stroke="#8f3a55" stroke-width="0.7"/>
<circle cx="394.50" cy="90.41" r="1.45" fill="#fbe4e9" stroke="#8f3a55" stroke-width="0.7"/>
<path d="M401.70 89.95V99.27M400.60 89.95h2.2M400.60 99.27h2.2" stroke="#4a4a4a" stroke-width="0.75" fill="none"/>
<circle cx="401.70" cy="94.61" r="1.45" fill="#fbe4e9" stroke="#8f3a55" stroke-width="0.7"/>
<circle cx="408.80" cy="95.31" r="1.45" fill="#fbe4e9" stroke="#8f3a55" stroke-width="0.7"/>
<circle cx="416.20" cy="100.21" r="1.45" fill="#fbe4e9" stroke="#8f3a55" stroke-width="0.7"/>
<circle cx="423.30" cy="109.30" r="1.45" fill="#fbe4e9" stroke="#8f3a55" stroke-width="0.7"/>
<circle cx="430.40" cy="110.93" r="1.45" fill="#fbe4e9" stroke="#8f3a55" stroke-width="0.7"/>
<circle cx="437.50" cy="110.93" r="1.45" fill="#fbe4e9" stroke="#8f3a55" stroke-width="0.7"/>
<text x="114.90" y="133.90" font-size="7.0" stroke="#231f20" stroke-width="0.18" text-anchor="middle" >LP20</text>
<line x1="87.80" y1="158.44" x2="145.40" y2="158.44" stroke="#d2d2d2" stroke-width="1.1" />
<line x1="84.95" y1="170.10" x2="144.90" y2="170.10" stroke="#231f20" stroke-width="0.95" />
<line x1="85.40" y1="170.10" x2="85.40" y2="172.50" stroke="#231f20" stroke-width="0.8" />
<text x="85.40" y="182.30" font-size="6.5" stroke="#231f20" stroke-width="0.1" text-anchor="middle" >0</text>
<line x1="100.15" y1="170.10" x2="100.15" y2="172.50" stroke="#231f20" stroke-width="0.8" />
<text x="100.15" y="182.30" font-size="6.5" stroke="#231f20" stroke-width="0.1" text-anchor="middle" >1</text>
<line x1="114.90" y1="170.10" x2="114.90" y2="172.50" stroke="#231f20" stroke-width="0.8" />
<text x="114.90" y="182.30" font-size="6.5" stroke="#231f20" stroke-width="0.1" text-anchor="middle" >10</text>
<line x1="129.65" y1="170.10" x2="129.65" y2="172.50" stroke="#231f20" stroke-width="0.8" />
<text x="129.65" y="182.30" font-size="6.5" stroke="#231f20" stroke-width="0.1" text-anchor="middle" >100</text>
<line x1="144.40" y1="170.10" x2="144.40" y2="172.50" stroke="#231f20" stroke-width="0.8" />
<text x="144.40" y="182.30" font-size="6.5" stroke="#231f20" stroke-width="0.1" text-anchor="middle" >1000</text>
<line x1="85.40" y1="170.55" x2="85.40" y2="130.70" stroke="#231f20" stroke-width="0.95" />
<line x1="83.00" y1="170.10" x2="85.40" y2="170.10" stroke="#231f20" stroke-width="0.8" />
<text x="80.40" y="172.80" font-size="6.0" stroke="#231f20" stroke-width="0.18" text-anchor="end" textLength="3.55" lengthAdjust="spacingAndGlyphs" >0</text>
<line x1="83.00" y1="164.27" x2="85.40" y2="164.27" stroke="#231f20" stroke-width="0.8" />
<text x="80.40" y="166.97" font-size="6.0" stroke="#231f20" stroke-width="0.18" text-anchor="end" textLength="7.40" lengthAdjust="spacingAndGlyphs" >25</text>
<line x1="83.00" y1="158.44" x2="85.40" y2="158.44" stroke="#231f20" stroke-width="0.8" />
<text x="80.40" y="161.14" font-size="6.0" stroke="#231f20" stroke-width="0.18" text-anchor="end" textLength="7.40" lengthAdjust="spacingAndGlyphs" >50</text>
<line x1="83.00" y1="152.61" x2="85.40" y2="152.61" stroke="#231f20" stroke-width="0.8" />
<text x="80.40" y="155.31" font-size="6.0" stroke="#231f20" stroke-width="0.18" text-anchor="end" textLength="7.40" lengthAdjust="spacingAndGlyphs" >75</text>
<line x1="83.00" y1="146.78" x2="85.40" y2="146.78" stroke="#231f20" stroke-width="0.8" />
<text x="80.40" y="149.48" font-size="6.0" stroke="#231f20" stroke-width="0.18" text-anchor="end" textLength="11.25" lengthAdjust="spacingAndGlyphs" >100</text>
<line x1="83.00" y1="140.95" x2="85.40" y2="140.95" stroke="#231f20" stroke-width="0.8" />
<text x="80.40" y="143.65" font-size="6.0" stroke="#231f20" stroke-width="0.18" text-anchor="end" textLength="11.25" lengthAdjust="spacingAndGlyphs" >125</text>
<line x1="83.00" y1="135.12" x2="85.40" y2="135.12" stroke="#231f20" stroke-width="0.8" />
<text x="80.40" y="137.82" font-size="6.0" stroke="#231f20" stroke-width="0.18" text-anchor="end" textLength="11.25" lengthAdjust="spacingAndGlyphs" >150</text>
<polyline points="85.40,146.78 86.14,147.01 87.11,147.31 88.27,147.67 89.57,148.07 90.95,148.50 92.37,148.94 93.77,149.38 95.12,149.79 96.34,150.18 97.40,150.51 98.31,150.80 99.15,151.06 99.92,151.30 100.63,151.52 101.31,151.74 101.96,151.94 102.60,152.15 103.24,152.37 103.91,152.60 104.60,152.84 105.31,153.10 106.02,153.37 106.73,153.63 107.43,153.91 108.14,154.18 108.84,154.47 109.55,154.75 110.26,155.04 110.98,155.34 111.70,155.64 112.43,155.95 113.17,156.25 113.91,156.56 114.65,156.88 115.40,157.20 116.15,157.53 116.89,157.86 117.63,158.20 118.37,158.55 119.10,158.91 119.82,159.28 120.54,159.67 121.25,160.08 121.96,160.50 122.67,160.92 123.37,161.34 124.08,161.75 124.78,162.14 125.49,162.52 126.20,162.87 126.91,163.20 127.62,163.53 128.33,163.84 129.04,164.14 129.75,164.43 130.46,164.71 131.17,164.97 131.88,165.22 132.59,165.45 133.30,165.67 134.04,165.87 134.83,166.06 135.65,166.24 136.48,166.40 137.29,166.54 138.07,166.68 138.79,166.80 139.43,166.90 139.98,166.99 140.40,167.07" fill="none" stroke="#c84262" stroke-width="1.05"/>
<circle cx="85.40" cy="147.01" r="1.45" fill="#fbe4e9" stroke="#8f3a55" stroke-width="0.7"/>
<path d="M97.40 145.85V164.04M96.30 145.85h2.2M96.30 164.04h2.2" stroke="#4a4a4a" stroke-width="0.75" fill="none"/>
<circle cx="97.40" cy="154.94" r="1.45" fill="#fbe4e9" stroke="#8f3a55" stroke-width="0.7"/>
<path d="M104.60 152.38V155.64M103.50 152.38h2.2M103.50 155.64h2.2" stroke="#4a4a4a" stroke-width="0.75" fill="none"/>
<circle cx="104.60" cy="154.01" r="1.45" fill="#fbe4e9" stroke="#8f3a55" stroke-width="0.7"/>
<path d="M111.70 148.18V158.91M110.60 148.18h2.2M110.60 158.91h2.2" stroke="#4a4a4a" stroke-width="0.75" fill="none"/>
<circle cx="111.70" cy="153.54" r="1.45" fill="#fbe4e9" stroke="#8f3a55" stroke-width="0.7"/>
<path d="M119.10 156.81V160.54M118.00 156.81h2.2M118.00 160.54h2.2" stroke="#4a4a4a" stroke-width="0.75" fill="none"/>
<circle cx="119.10" cy="158.67" r="1.45" fill="#fbe4e9" stroke="#8f3a55" stroke-width="0.7"/>
<circle cx="126.20" cy="166.60" r="1.45" fill="#fbe4e9" stroke="#8f3a55" stroke-width="0.7"/>
<circle cx="133.30" cy="166.60" r="1.45" fill="#fbe4e9" stroke="#8f3a55" stroke-width="0.7"/>
<circle cx="140.40" cy="167.07" r="1.45" fill="#fbe4e9" stroke="#8f3a55" stroke-width="0.7"/>
<text x="189.90" y="133.90" font-size="7.0" stroke="#231f20" stroke-width="0.18" text-anchor="middle" >LP21</text>
<line x1="159.40" y1="158.44" x2="220.40" y2="158.44" stroke="#d2d2d2" stroke-width="1.1" />
<line x1="159.95" y1="171.70" x2="219.90" y2="171.70" stroke="#231f20" stroke-width="0.95" />
<line x1="160.40" y1="171.70" x2="160.40" y2="174.10" stroke="#231f20" stroke-width="0.8" />
<text x="160.40" y="182.30" font-size="6.5" stroke="#231f20" stroke-width="0.1" text-anchor="middle" >0</text>
<line x1="175.15" y1="171.70" x2="175.15" y2="174.10" stroke="#231f20" stroke-width="0.8" />
<text x="175.15" y="182.30" font-size="6.5" stroke="#231f20" stroke-width="0.1" text-anchor="middle" >1</text>
<line x1="189.90" y1="171.70" x2="189.90" y2="174.10" stroke="#231f20" stroke-width="0.8" />
<text x="189.90" y="182.30" font-size="6.5" stroke="#231f20" stroke-width="0.1" text-anchor="middle" >10</text>
<line x1="204.65" y1="171.70" x2="204.65" y2="174.10" stroke="#231f20" stroke-width="0.8" />
<text x="204.65" y="182.30" font-size="6.5" stroke="#231f20" stroke-width="0.1" text-anchor="middle" >100</text>
<line x1="219.40" y1="171.70" x2="219.40" y2="174.10" stroke="#231f20" stroke-width="0.8" />
<text x="219.40" y="182.30" font-size="6.5" stroke="#231f20" stroke-width="0.1" text-anchor="middle" >1000</text>
<polyline points="160.40,147.71 161.14,147.85 162.11,148.03 163.27,148.23 164.57,148.47 165.95,148.72 167.37,148.98 168.77,149.25 170.12,149.53 171.34,149.79 172.40,150.04 173.31,150.29 174.15,150.53 174.92,150.78 175.63,151.02 176.31,151.27 176.96,151.52 177.60,151.78 178.24,152.05 178.91,152.32 179.60,152.61 180.31,152.90 181.02,153.20 181.73,153.51 182.43,153.82 183.14,154.14 183.84,154.47 184.55,154.80 185.26,155.15 185.98,155.51 186.70,155.87 187.43,156.25 188.17,156.64 188.91,157.03 189.65,157.43 190.40,157.84 191.15,158.26 191.89,158.70 192.63,159.14 193.37,159.60 194.10,160.07 194.83,160.57 195.58,161.10 196.33,161.65 197.08,162.22 197.82,162.80 198.55,163.37 199.26,163.93 199.94,164.46 200.59,164.97 201.20,165.44 201.78,165.87 202.33,166.29 202.86,166.70 203.36,167.08 203.84,167.45 204.29,167.79 204.73,168.11 205.14,168.41 205.53,168.69 205.90,168.93 206.22,169.15 206.47,169.34 206.67,169.49 206.84,169.62 207.01,169.74 207.18,169.83 207.39,169.91 207.65,169.98 207.98,170.04 208.40,170.10 208.95,170.10 209.62,170.10 210.39,170.10 211.21,170.10 212.06,170.10 212.89,170.10 213.67,170.10 214.38,170.10 214.96,170.10 215.40,170.10" fill="none" stroke="#c84262" stroke-width="1.05"/>
<path d="M160.40 143.28V152.61M159.30 143.28h2.2M159.30 152.61h2.2" stroke="#4a4a4a" stroke-width="0.75" fill="none"/>
<circle cx="160.40" cy="147.95" r="1.45" fill="#fbe4e9" stroke="#8f3a55" stroke-width="0.7"/>
<path d="M172.40 142.12V158.91M171.30 142.12h2.2M171.30 158.91h2.2" stroke="#4a4a4a" stroke-width="0.75" fill="none"/>
<circle cx="172.40" cy="150.51" r="1.45" fill="#fbe4e9" stroke="#8f3a55" stroke-width="0.7"/>
<path d="M179.60 153.54V164.74M178.50 153.54h2.2M178.50 164.74h2.2" stroke="#4a4a4a" stroke-width="0.75" fill="none"/>
<circle cx="179.60" cy="159.14" r="1.45" fill="#fbe4e9" stroke="#8f3a55" stroke-width="0.7"/>
<path d="M186.70 151.91V154.71M185.60 151.91h2.2M185.60 154.71h2.2" stroke="#4a4a4a" stroke-width="0.75" fill="none"/>
<circle cx="186.70" cy="153.31" r="1.45" fill="#fbe4e9" stroke="#8f3a55" stroke-width="0.7"/>
<path d="M194.10 158.67V162.40M193.00 158.67h2.2M193.00 162.40h2.2" stroke="#4a4a4a" stroke-width="0.75" fill="none"/>
<circle cx="194.10" cy="160.54" r="1.45" fill="#fbe4e9" stroke="#8f3a55" stroke-width="0.7"/>
<circle cx="201.20" cy="168.00" r="1.45" fill="#fbe4e9" stroke="#8f3a55" stroke-width="0.7"/>
<circle cx="208.30" cy="170.10" r="1.45" fill="#fbe4e9" stroke="#8f3a55" stroke-width="0.7"/>
<circle cx="215.40" cy="170.10" r="1.45" fill="#fbe4e9" stroke="#8f3a55" stroke-width="0.7"/>
<text x="114.90" y="192.20" font-size="7.0" stroke="#231f20" stroke-width="0.18" text-anchor="middle" >LP4</text>
<line x1="87.80" y1="216.54" x2="145.40" y2="216.54" stroke="#d2d2d2" stroke-width="1.1" />
<line x1="84.95" y1="228.20" x2="144.90" y2="228.20" stroke="#231f20" stroke-width="0.95" />
<line x1="85.40" y1="228.20" x2="85.40" y2="230.60" stroke="#231f20" stroke-width="0.8" />
<text x="85.40" y="240.40" font-size="6.5" stroke="#231f20" stroke-width="0.1" text-anchor="middle" >0</text>
<line x1="100.15" y1="228.20" x2="100.15" y2="230.60" stroke="#231f20" stroke-width="0.8" />
<text x="100.15" y="240.40" font-size="6.5" stroke="#231f20" stroke-width="0.1" text-anchor="middle" >1</text>
<line x1="114.90" y1="228.20" x2="114.90" y2="230.60" stroke="#231f20" stroke-width="0.8" />
<text x="114.90" y="240.40" font-size="6.5" stroke="#231f20" stroke-width="0.1" text-anchor="middle" >10</text>
<line x1="129.65" y1="228.20" x2="129.65" y2="230.60" stroke="#231f20" stroke-width="0.8" />
<text x="129.65" y="240.40" font-size="6.5" stroke="#231f20" stroke-width="0.1" text-anchor="middle" >100</text>
<line x1="144.40" y1="228.20" x2="144.40" y2="230.60" stroke="#231f20" stroke-width="0.8" />
<text x="144.40" y="240.40" font-size="6.5" stroke="#231f20" stroke-width="0.1" text-anchor="middle" >1000</text>
<line x1="85.40" y1="228.65" x2="85.40" y2="188.80" stroke="#231f20" stroke-width="0.95" />
<line x1="83.00" y1="228.20" x2="85.40" y2="228.20" stroke="#231f20" stroke-width="0.8" />
<text x="80.40" y="230.90" font-size="6.0" stroke="#231f20" stroke-width="0.18" text-anchor="end" textLength="3.55" lengthAdjust="spacingAndGlyphs" >0</text>
<line x1="83.00" y1="222.37" x2="85.40" y2="222.37" stroke="#231f20" stroke-width="0.8" />
<text x="80.40" y="225.07" font-size="6.0" stroke="#231f20" stroke-width="0.18" text-anchor="end" textLength="7.40" lengthAdjust="spacingAndGlyphs" >25</text>
<line x1="83.00" y1="216.54" x2="85.40" y2="216.54" stroke="#231f20" stroke-width="0.8" />
<text x="80.40" y="219.24" font-size="6.0" stroke="#231f20" stroke-width="0.18" text-anchor="end" textLength="7.40" lengthAdjust="spacingAndGlyphs" >50</text>
<line x1="83.00" y1="210.71" x2="85.40" y2="210.71" stroke="#231f20" stroke-width="0.8" />
<text x="80.40" y="213.41" font-size="6.0" stroke="#231f20" stroke-width="0.18" text-anchor="end" textLength="7.40" lengthAdjust="spacingAndGlyphs" >75</text>
<line x1="83.00" y1="204.88" x2="85.40" y2="204.88" stroke="#231f20" stroke-width="0.8" />
<text x="80.40" y="207.58" font-size="6.0" stroke="#231f20" stroke-width="0.18" text-anchor="end" textLength="11.25" lengthAdjust="spacingAndGlyphs" >100</text>
<line x1="83.00" y1="199.05" x2="85.40" y2="199.05" stroke="#231f20" stroke-width="0.8" />
<text x="80.40" y="201.75" font-size="6.0" stroke="#231f20" stroke-width="0.18" text-anchor="end" textLength="11.25" lengthAdjust="spacingAndGlyphs" >125</text>
<line x1="83.00" y1="193.22" x2="85.40" y2="193.22" stroke="#231f20" stroke-width="0.8" />
<text x="80.40" y="195.92" font-size="6.0" stroke="#231f20" stroke-width="0.18" text-anchor="end" textLength="11.25" lengthAdjust="spacingAndGlyphs" >150</text>
<polyline points="85.40,205.04 86.32,205.07 87.23,205.11 88.15,205.15 89.07,205.19 89.98,205.23 90.90,205.28 91.82,205.34 92.73,205.39 93.65,205.46 94.57,205.52 95.48,205.59 96.40,205.67 97.32,205.75 98.23,205.84 99.15,205.94 100.07,206.04 100.98,206.14 101.90,206.26 102.82,206.38 103.73,206.51 104.65,206.64 105.57,206.79 106.48,206.94 107.40,207.10 108.32,207.26 109.23,207.44 110.15,207.62 111.07,207.80 111.98,208.00 112.90,208.20 113.82,208.41 114.73,208.62 115.65,208.84 116.57,209.06 117.48,209.28 118.40,209.51 119.32,209.74 120.23,209.97 121.15,210.20 122.07,210.43 122.98,210.66 123.90,210.88 124.82,211.10 125.73,211.32 126.65,211.54 127.57,211.75 128.48,211.95 129.40,212.15 130.32,212.34 131.23,212.52 132.15,212.70 133.07,212.86 133.98,213.03 134.90,213.18 135.82,213.33 136.73,213.46 137.65,213.60 138.57,213.72 139.48,213.84 140.40,213.95" fill="none" stroke="#c84262" stroke-width="1.05"/>
<circle cx="85.40" cy="204.88" r="1.45" fill="#fbe4e9" stroke="#8f3a55" stroke-width="0.7"/>
<path d="M97.40 205.35V211.88M96.30 205.35h2.2M96.30 211.88h2.2" stroke="#4a4a4a" stroke-width="0.75" fill="none"/>
<circle cx="97.40" cy="208.61" r="1.45" fill="#fbe4e9" stroke="#8f3a55" stroke-width="0.7"/>
<path d="M104.60 205.58V209.78M103.50 205.58h2.2M103.50 209.78h2.2" stroke="#4a4a4a" stroke-width="0.75" fill="none"/>
<circle cx="104.60" cy="207.68" r="1.45" fill="#fbe4e9" stroke="#8f3a55" stroke-width="0.7"/>
<circle cx="111.70" cy="205.81" r="1.45" fill="#fbe4e9" stroke="#8f3a55" stroke-width="0.7"/>
<path d="M119.10 208.84V211.64M118.00 208.84h2.2M118.00 211.64h2.2" stroke="#4a4a4a" stroke-width="0.75" fill="none"/>
<circle cx="119.10" cy="210.24" r="1.45" fill="#fbe4e9" stroke="#8f3a55" stroke-width="0.7"/>
<path d="M126.20 208.38V214.91M125.10 208.38h2.2M125.10 214.91h2.2" stroke="#4a4a4a" stroke-width="0.75" fill="none"/>
<circle cx="126.20" cy="211.64" r="1.45" fill="#fbe4e9" stroke="#8f3a55" stroke-width="0.7"/>
<path d="M133.30 213.04V215.37M132.20 213.04h2.2M132.20 215.37h2.2" stroke="#4a4a4a" stroke-width="0.75" fill="none"/>
<circle cx="133.30" cy="214.21" r="1.45" fill="#fbe4e9" stroke="#8f3a55" stroke-width="0.7"/>
<circle cx="140.40" cy="213.97" r="1.45" fill="#fbe4e9" stroke="#8f3a55" stroke-width="0.7"/>
<text x="189.90" y="192.20" font-size="7.0" stroke="#231f20" stroke-width="0.18" text-anchor="middle" >LP7</text>
<line x1="159.40" y1="216.54" x2="220.40" y2="216.54" stroke="#d2d2d2" stroke-width="1.1" />
<line x1="159.95" y1="229.80" x2="219.90" y2="229.80" stroke="#231f20" stroke-width="0.95" />
<line x1="160.40" y1="229.80" x2="160.40" y2="232.20" stroke="#231f20" stroke-width="0.8" />
<text x="160.40" y="240.40" font-size="6.5" stroke="#231f20" stroke-width="0.1" text-anchor="middle" >0</text>
<line x1="175.15" y1="229.80" x2="175.15" y2="232.20" stroke="#231f20" stroke-width="0.8" />
<text x="175.15" y="240.40" font-size="6.5" stroke="#231f20" stroke-width="0.1" text-anchor="middle" >1</text>
<line x1="189.90" y1="229.80" x2="189.90" y2="232.20" stroke="#231f20" stroke-width="0.8" />
<text x="189.90" y="240.40" font-size="6.5" stroke="#231f20" stroke-width="0.1" text-anchor="middle" >10</text>
<line x1="204.65" y1="229.80" x2="204.65" y2="232.20" stroke="#231f20" stroke-width="0.8" />
<text x="204.65" y="240.40" font-size="6.5" stroke="#231f20" stroke-width="0.1" text-anchor="middle" >100</text>
<line x1="219.40" y1="229.80" x2="219.40" y2="232.20" stroke="#231f20" stroke-width="0.8" />
<text x="219.40" y="240.40" font-size="6.5" stroke="#231f20" stroke-width="0.1" text-anchor="middle" >1000</text>
<polyline points="160.40,205.37 161.32,205.41 162.23,205.44 163.15,205.48 164.07,205.53 164.98,205.57 165.90,205.62 166.82,205.67 167.73,205.72 168.65,205.78 169.57,205.84 170.48,205.91 171.40,205.98 172.32,206.05 173.23,206.13 174.15,206.21 175.07,206.30 175.98,206.39 176.90,206.49 177.82,206.59 178.73,206.69 179.65,206.81 180.57,206.92 181.48,207.05 182.40,207.18 183.32,207.31 184.23,207.45 185.15,207.60 186.07,207.75 186.98,207.91 187.90,208.07 188.82,208.24 189.73,208.41 190.65,208.59 191.57,208.78 192.48,208.96 193.40,209.16 194.32,209.35 195.23,209.55 196.15,209.75 197.07,209.96 197.98,210.16 198.90,210.37 199.82,210.58 200.73,210.79 201.65,210.99 202.57,211.20 203.48,211.41 204.40,211.61 205.32,211.82 206.23,212.01 207.15,212.21 208.07,212.40 208.98,212.59 209.90,212.78 210.82,212.96 211.73,213.13 212.65,213.30 213.57,213.47 214.48,213.63 215.40,213.78" fill="none" stroke="#c84262" stroke-width="1.05"/>
<path d="M160.40 199.98V210.24M159.30 199.98h2.2M159.30 210.24h2.2" stroke="#4a4a4a" stroke-width="0.75" fill="none"/>
<circle cx="160.40" cy="205.11" r="1.45" fill="#fbe4e9" stroke="#8f3a55" stroke-width="0.7"/>
<path d="M172.40 201.62V211.41M171.30 201.62h2.2M171.30 211.41h2.2" stroke="#4a4a4a" stroke-width="0.75" fill="none"/>
<circle cx="172.40" cy="206.51" r="1.45" fill="#fbe4e9" stroke="#8f3a55" stroke-width="0.7"/>
<path d="M179.60 207.45V209.78M178.50 207.45h2.2M178.50 209.78h2.2" stroke="#4a4a4a" stroke-width="0.75" fill="none"/>
<circle cx="179.60" cy="208.61" r="1.45" fill="#fbe4e9" stroke="#8f3a55" stroke-width="0.7"/>
<path d="M186.70 207.91V218.64M185.60 207.91h2.2M185.60 218.64h2.2" stroke="#4a4a4a" stroke-width="0.75" fill="none"/>
<circle cx="186.70" cy="213.28" r="1.45" fill="#fbe4e9" stroke="#8f3a55" stroke-width="0.7"/>
<path d="M194.10 209.54V211.41M193.00 209.54h2.2M193.00 211.41h2.2" stroke="#4a4a4a" stroke-width="0.75" fill="none"/>
<circle cx="194.10" cy="210.48" r="1.45" fill="#fbe4e9" stroke="#8f3a55" stroke-width="0.7"/>
<circle cx="201.20" cy="210.48" r="1.45" fill="#fbe4e9" stroke="#8f3a55" stroke-width="0.7"/>
<circle cx="208.30" cy="212.58" r="1.45" fill="#fbe4e9" stroke="#8f3a55" stroke-width="0.7"/>
<path d="M215.40 211.18V218.17M214.30 211.18h2.2M214.30 218.17h2.2" stroke="#4a4a4a" stroke-width="0.75" fill="none"/>
<circle cx="215.40" cy="214.67" r="1.45" fill="#fbe4e9" stroke="#8f3a55" stroke-width="0.7"/>
<text x="263.90" y="192.20" font-size="7.0" stroke="#231f20" stroke-width="0.18" text-anchor="middle" >LP10</text>
<line x1="233.40" y1="216.54" x2="294.40" y2="216.54" stroke="#d2d2d2" stroke-width="1.1" />
<line x1="233.95" y1="229.80" x2="293.90" y2="229.80" stroke="#231f20" stroke-width="0.95" />
<line x1="234.40" y1="229.80" x2="234.40" y2="232.20" stroke="#231f20" stroke-width="0.8" />
<text x="234.40" y="240.40" font-size="6.5" stroke="#231f20" stroke-width="0.1" text-anchor="middle" >0</text>
<line x1="249.15" y1="229.80" x2="249.15" y2="232.20" stroke="#231f20" stroke-width="0.8" />
<text x="249.15" y="240.40" font-size="6.5" stroke="#231f20" stroke-width="0.1" text-anchor="middle" >1</text>
<line x1="263.90" y1="229.80" x2="263.90" y2="232.20" stroke="#231f20" stroke-width="0.8" />
<text x="263.90" y="240.40" font-size="6.5" stroke="#231f20" stroke-width="0.1" text-anchor="middle" >10</text>
<line x1="278.65" y1="229.80" x2="278.65" y2="232.20" stroke="#231f20" stroke-width="0.8" />
<text x="278.65" y="240.40" font-size="6.5" stroke="#231f20" stroke-width="0.1" text-anchor="middle" >100</text>
<line x1="293.40" y1="229.80" x2="293.40" y2="232.20" stroke="#231f20" stroke-width="0.8" />
<text x="293.40" y="240.40" font-size="6.5" stroke="#231f20" stroke-width="0.1" text-anchor="middle" >1000</text>
<polyline points="234.40,207.04 235.32,207.14 236.23,207.24 237.15,207.35 238.07,207.46 238.98,207.58 239.90,207.71 240.82,207.84 241.73,207.98 242.65,208.13 243.57,208.28 244.48,208.44 245.40,208.61 246.32,208.79 247.23,208.97 248.15,209.16 249.07,209.35 249.98,209.56 250.90,209.77 251.82,209.98 252.73,210.20 253.65,210.43 254.57,210.67 255.48,210.90 256.40,211.15 257.32,211.39 258.23,211.64 259.15,211.90 260.07,212.15 260.98,212.41 261.90,212.67 262.82,212.93 263.73,213.18 264.65,213.44 265.57,213.70 266.48,213.95 267.40,214.20 268.32,214.45 269.23,214.69 270.15,214.93 271.07,215.16 271.98,215.39 272.90,215.62 273.82,215.83 274.73,216.04 275.65,216.25 276.57,216.44 277.48,216.63 278.40,216.82 279.32,216.99 280.23,217.16 281.15,217.32 282.07,217.48 282.98,217.62 283.90,217.76 284.82,217.90 285.73,218.02 286.65,218.15 287.57,218.26 288.48,218.37 289.40,218.47" fill="none" stroke="#c84262" stroke-width="1.05"/>
<path d="M234.40 200.45V210.71M233.30 200.45h2.2M233.30 210.71h2.2" stroke="#4a4a4a" stroke-width="0.75" fill="none"/>
<circle cx="234.40" cy="205.58" r="1.45" fill="#fbe4e9" stroke="#8f3a55" stroke-width="0.7"/>
<path d="M246.40 208.38V212.11M245.30 208.38h2.2M245.30 212.11h2.2" stroke="#4a4a4a" stroke-width="0.75" fill="none"/>
<circle cx="246.40" cy="210.24" r="1.45" fill="#fbe4e9" stroke="#8f3a55" stroke-width="0.7"/>
<circle cx="253.60" cy="211.88" r="1.45" fill="#fbe4e9" stroke="#8f3a55" stroke-width="0.7"/>
<circle cx="260.70" cy="212.81" r="1.45" fill="#fbe4e9" stroke="#8f3a55" stroke-width="0.7"/>
<path d="M268.10 208.84V215.37M267.00 208.84h2.2M267.00 215.37h2.2" stroke="#4a4a4a" stroke-width="0.75" fill="none"/>
<circle cx="268.10" cy="212.11" r="1.45" fill="#fbe4e9" stroke="#8f3a55" stroke-width="0.7"/>
<circle cx="275.20" cy="215.37" r="1.45" fill="#fbe4e9" stroke="#8f3a55" stroke-width="0.7"/>
<circle cx="282.30" cy="218.87" r="1.45" fill="#fbe4e9" stroke="#8f3a55" stroke-width="0.7"/>
<circle cx="289.40" cy="217.71" r="1.45" fill="#fbe4e9" stroke="#8f3a55" stroke-width="0.7"/>
<text x="338.00" y="192.20" font-size="7.0" stroke="#231f20" stroke-width="0.18" text-anchor="middle" >LP14</text>
<line x1="307.50" y1="216.54" x2="368.50" y2="216.54" stroke="#d2d2d2" stroke-width="1.1" />
<line x1="308.05" y1="229.80" x2="368.00" y2="229.80" stroke="#231f20" stroke-width="0.95" />
<line x1="308.50" y1="229.80" x2="308.50" y2="232.20" stroke="#231f20" stroke-width="0.8" />
<text x="308.50" y="240.40" font-size="6.5" stroke="#231f20" stroke-width="0.1" text-anchor="middle" >0</text>
<line x1="323.25" y1="229.80" x2="323.25" y2="232.20" stroke="#231f20" stroke-width="0.8" />
<text x="323.25" y="240.40" font-size="6.5" stroke="#231f20" stroke-width="0.1" text-anchor="middle" >1</text>
<line x1="338.00" y1="229.80" x2="338.00" y2="232.20" stroke="#231f20" stroke-width="0.8" />
<text x="338.00" y="240.40" font-size="6.5" stroke="#231f20" stroke-width="0.1" text-anchor="middle" >10</text>
<line x1="352.75" y1="229.80" x2="352.75" y2="232.20" stroke="#231f20" stroke-width="0.8" />
<text x="352.75" y="240.40" font-size="6.5" stroke="#231f20" stroke-width="0.1" text-anchor="middle" >100</text>
<line x1="367.50" y1="229.80" x2="367.50" y2="232.20" stroke="#231f20" stroke-width="0.8" />
<text x="367.50" y="240.40" font-size="6.5" stroke="#231f20" stroke-width="0.1" text-anchor="middle" >1000</text>
<polyline points="308.50,205.35 309.42,205.35 310.33,205.35 311.25,205.35 312.17,205.35 313.08,205.35 314.00,205.35 314.92,205.35 315.83,205.35 316.75,205.35 317.67,205.35 318.58,205.35 319.50,205.35 320.42,205.35 321.33,205.35 322.25,205.35 323.17,205.35 324.08,205.35 325.00,205.35 325.92,205.36 326.83,205.36 327.75,205.36 328.67,205.37 329.58,205.38 330.50,205.39 331.42,205.40 332.33,205.41 333.25,205.44 334.17,205.47 335.08,205.51 336.00,205.56 336.92,205.63 337.83,205.72 338.75,205.83 339.67,205.99 340.58,206.18 341.50,206.43 342.42,206.74 343.33,207.13 344.25,207.60 345.17,208.15 346.08,208.78 347.00,209.48 347.92,210.22 348.83,210.99 349.75,211.74 350.67,212.46 351.58,213.11 352.50,213.68 353.42,214.17 354.33,214.58 355.25,214.91 356.17,215.18 357.08,215.39 358.00,215.55 358.92,215.67 359.83,215.77 360.75,215.84 361.67,215.90 362.58,215.94 363.50,215.98" fill="none" stroke="#c84262" stroke-width="1.05"/>
<path d="M308.50 199.28V211.88M307.40 199.28h2.2M307.40 211.88h2.2" stroke="#4a4a4a" stroke-width="0.75" fill="none"/>
<circle cx="308.50" cy="205.58" r="1.45" fill="#fbe4e9" stroke="#8f3a55" stroke-width="0.7"/>
<path d="M320.50 200.45V211.18M319.40 200.45h2.2M319.40 211.18h2.2" stroke="#4a4a4a" stroke-width="0.75" fill="none"/>
<circle cx="320.50" cy="205.81" r="1.45" fill="#fbe4e9" stroke="#8f3a55" stroke-width="0.7"/>
<path d="M327.70 203.95V206.28M326.60 203.95h2.2M326.60 206.28h2.2" stroke="#4a4a4a" stroke-width="0.75" fill="none"/>
<circle cx="327.70" cy="205.11" r="1.45" fill="#fbe4e9" stroke="#8f3a55" stroke-width="0.7"/>
<path d="M334.80 204.65V206.98M333.70 204.65h2.2M333.70 206.98h2.2" stroke="#4a4a4a" stroke-width="0.75" fill="none"/>
<circle cx="334.80" cy="205.81" r="1.45" fill="#fbe4e9" stroke="#8f3a55" stroke-width="0.7"/>
<path d="M342.20 206.98V210.24M341.10 206.98h2.2M341.10 210.24h2.2" stroke="#4a4a4a" stroke-width="0.75" fill="none"/>
<circle cx="342.20" cy="208.61" r="1.45" fill="#fbe4e9" stroke="#8f3a55" stroke-width="0.7"/>
<path d="M349.30 209.78V214.44M348.20 209.78h2.2M348.20 214.44h2.2" stroke="#4a4a4a" stroke-width="0.75" fill="none"/>
<circle cx="349.30" cy="212.11" r="1.45" fill="#fbe4e9" stroke="#8f3a55" stroke-width="0.7"/>
<circle cx="356.40" cy="215.84" r="1.45" fill="#fbe4e9" stroke="#8f3a55" stroke-width="0.7"/>
<path d="M363.50 213.97V215.84M362.40 213.97h2.2M362.40 215.84h2.2" stroke="#4a4a4a" stroke-width="0.75" fill="none"/>
<circle cx="363.50" cy="214.91" r="1.45" fill="#fbe4e9" stroke="#8f3a55" stroke-width="0.7"/>
<text x="412.00" y="192.20" font-size="7.0" stroke="#231f20" stroke-width="0.18" text-anchor="middle" >LP15</text>
<line x1="381.50" y1="216.54" x2="442.50" y2="216.54" stroke="#d2d2d2" stroke-width="1.1" />
<line x1="382.05" y1="229.80" x2="442.00" y2="229.80" stroke="#231f20" stroke-width="0.95" />
<line x1="382.50" y1="229.80" x2="382.50" y2="232.20" stroke="#231f20" stroke-width="0.8" />
<text x="382.50" y="240.40" font-size="6.5" stroke="#231f20" stroke-width="0.1" text-anchor="middle" >0</text>
<line x1="397.25" y1="229.80" x2="397.25" y2="232.20" stroke="#231f20" stroke-width="0.8" />
<text x="397.25" y="240.40" font-size="6.5" stroke="#231f20" stroke-width="0.1" text-anchor="middle" >1</text>
<line x1="412.00" y1="229.80" x2="412.00" y2="232.20" stroke="#231f20" stroke-width="0.8" />
<text x="412.00" y="240.40" font-size="6.5" stroke="#231f20" stroke-width="0.1" text-anchor="middle" >10</text>
<line x1="426.75" y1="229.80" x2="426.75" y2="232.20" stroke="#231f20" stroke-width="0.8" />
<text x="426.75" y="240.40" font-size="6.5" stroke="#231f20" stroke-width="0.1" text-anchor="middle" >100</text>
<line x1="441.50" y1="229.80" x2="441.50" y2="232.20" stroke="#231f20" stroke-width="0.8" />
<text x="441.50" y="240.40" font-size="6.5" stroke="#231f20" stroke-width="0.1" text-anchor="middle" >1000</text>
<polyline points="382.50,205.58 383.42,205.58 384.33,205.58 385.25,205.58 386.17,205.58 387.08,205.58 388.00,205.58 388.92,205.58 389.83,205.58 390.75,205.58 391.67,205.58 392.58,205.58 393.50,205.58 394.42,205.58 395.33,205.58 396.25,205.58 397.17,205.58 398.08,205.58 399.00,205.58 399.92,205.58 400.83,205.58 401.75,205.58 402.67,205.58 403.58,205.59 404.50,205.59 405.42,205.59 406.33,205.60 407.25,205.60 408.17,205.61 409.08,205.62 410.00,205.63 410.92,205.65 411.83,205.67 412.75,205.70 413.67,205.74 414.58,205.79 415.50,205.86 416.42,205.95 417.33,206.07 418.25,206.22 419.17,206.42 420.08,206.66 421.00,206.96 421.92,207.33 422.83,207.78 423.75,208.29 424.67,208.86 425.58,209.48 426.50,210.13 427.42,210.77 428.33,211.39 429.25,211.97 430.17,212.48 431.08,212.92 432.00,213.29 432.92,213.59 433.83,213.84 434.75,214.03 435.67,214.18 436.58,214.30 437.50,214.39" fill="none" stroke="#c84262" stroke-width="1.05"/>
<path d="M382.50 199.75V211.41M381.40 199.75h2.2M381.40 211.41h2.2" stroke="#4a4a4a" stroke-width="0.75" fill="none"/>
<circle cx="382.50" cy="205.58" r="1.45" fill="#fbe4e9" stroke="#8f3a55" stroke-width="0.7"/>
<circle cx="394.50" cy="208.84" r="1.45" fill="#fbe4e9" stroke="#8f3a55" stroke-width="0.7"/>
<path d="M401.70 201.38V205.11M400.60 201.38h2.2M400.60 205.11h2.2" stroke="#4a4a4a" stroke-width="0.75" fill="none"/>
<circle cx="401.70" cy="203.25" r="1.45" fill="#fbe4e9" stroke="#8f3a55" stroke-width="0.7"/>
<path d="M408.80 205.35V207.68M407.70 205.35h2.2M407.70 207.68h2.2" stroke="#4a4a4a" stroke-width="0.75" fill="none"/>
<circle cx="408.80" cy="206.51" r="1.45" fill="#fbe4e9" stroke="#8f3a55" stroke-width="0.7"/>
<path d="M416.20 203.48V212.81M415.10 203.48h2.2M415.10 212.81h2.2" stroke="#4a4a4a" stroke-width="0.75" fill="none"/>
<circle cx="416.20" cy="208.14" r="1.45" fill="#fbe4e9" stroke="#8f3a55" stroke-width="0.7"/>
<path d="M423.30 207.91V212.58M422.20 207.91h2.2M422.20 212.58h2.2" stroke="#4a4a4a" stroke-width="0.75" fill="none"/>
<circle cx="423.30" cy="210.24" r="1.45" fill="#fbe4e9" stroke="#8f3a55" stroke-width="0.7"/>
<circle cx="430.40" cy="214.44" r="1.45" fill="#fbe4e9" stroke="#8f3a55" stroke-width="0.7"/>
<circle cx="437.50" cy="214.21" r="1.45" fill="#fbe4e9" stroke="#8f3a55" stroke-width="0.7"/>
<text x="114.90" y="251.30" font-size="7.0" stroke="#231f20" stroke-width="0.18" text-anchor="middle" >LP3</text>
<line x1="87.80" y1="278.24" x2="145.40" y2="278.24" stroke="#d2d2d2" stroke-width="1.1" />
<line x1="84.95" y1="289.90" x2="144.90" y2="289.90" stroke="#231f20" stroke-width="0.95" />
<line x1="85.40" y1="289.90" x2="85.40" y2="292.30" stroke="#231f20" stroke-width="0.8" />
<text x="85.40" y="302.10" font-size="6.5" stroke="#231f20" stroke-width="0.1" text-anchor="middle" >0</text>
<line x1="100.15" y1="289.90" x2="100.15" y2="292.30" stroke="#231f20" stroke-width="0.8" />
<text x="100.15" y="302.10" font-size="6.5" stroke="#231f20" stroke-width="0.1" text-anchor="middle" >1</text>
<line x1="114.90" y1="289.90" x2="114.90" y2="292.30" stroke="#231f20" stroke-width="0.8" />
<text x="114.90" y="302.10" font-size="6.5" stroke="#231f20" stroke-width="0.1" text-anchor="middle" >10</text>
<line x1="129.65" y1="289.90" x2="129.65" y2="292.30" stroke="#231f20" stroke-width="0.8" />
<text x="129.65" y="302.10" font-size="6.5" stroke="#231f20" stroke-width="0.1" text-anchor="middle" >100</text>
<line x1="144.40" y1="289.90" x2="144.40" y2="292.30" stroke="#231f20" stroke-width="0.8" />
<text x="144.40" y="302.10" font-size="6.5" stroke="#231f20" stroke-width="0.1" text-anchor="middle" >1000</text>
<line x1="85.40" y1="290.35" x2="85.40" y2="250.50" stroke="#231f20" stroke-width="0.95" />
<line x1="83.00" y1="289.90" x2="85.40" y2="289.90" stroke="#231f20" stroke-width="0.8" />
<text x="80.40" y="292.60" font-size="6.0" stroke="#231f20" stroke-width="0.18" text-anchor="end" textLength="3.55" lengthAdjust="spacingAndGlyphs" >0</text>
<line x1="83.00" y1="284.07" x2="85.40" y2="284.07" stroke="#231f20" stroke-width="0.8" />
<text x="80.40" y="286.77" font-size="6.0" stroke="#231f20" stroke-width="0.18" text-anchor="end" textLength="7.40" lengthAdjust="spacingAndGlyphs" >25</text>
<line x1="83.00" y1="278.24" x2="85.40" y2="278.24" stroke="#231f20" stroke-width="0.8" />
<text x="80.40" y="280.94" font-size="6.0" stroke="#231f20" stroke-width="0.18" text-anchor="end" textLength="7.40" lengthAdjust="spacingAndGlyphs" >50</text>
<line x1="83.00" y1="272.41" x2="85.40" y2="272.41" stroke="#231f20" stroke-width="0.8" />
<text x="80.40" y="275.11" font-size="6.0" stroke="#231f20" stroke-width="0.18" text-anchor="end" textLength="7.40" lengthAdjust="spacingAndGlyphs" >75</text>
<line x1="83.00" y1="266.58" x2="85.40" y2="266.58" stroke="#231f20" stroke-width="0.8" />
<text x="80.40" y="269.28" font-size="6.0" stroke="#231f20" stroke-width="0.18" text-anchor="end" textLength="11.25" lengthAdjust="spacingAndGlyphs" >100</text>
<line x1="83.00" y1="260.75" x2="85.40" y2="260.75" stroke="#231f20" stroke-width="0.8" />
<text x="80.40" y="263.45" font-size="6.0" stroke="#231f20" stroke-width="0.18" text-anchor="end" textLength="11.25" lengthAdjust="spacingAndGlyphs" >125</text>
<line x1="83.00" y1="254.92" x2="85.40" y2="254.92" stroke="#231f20" stroke-width="0.8" />
<text x="80.40" y="257.62" font-size="6.0" stroke="#231f20" stroke-width="0.18" text-anchor="end" textLength="11.25" lengthAdjust="spacingAndGlyphs" >150</text>
<polyline points="85.40,267.98 86.32,267.98 87.23,267.98 88.15,267.98 89.07,267.98 89.98,267.97 90.90,267.97 91.82,267.97 92.73,267.97 93.65,267.97 94.57,267.97 95.48,267.97 96.40,267.97 97.32,267.96 98.23,267.96 99.15,267.96 100.07,267.96 100.98,267.95 101.90,267.95 102.82,267.95 103.73,267.94 104.65,267.94 105.57,267.93 106.48,267.92 107.40,267.91 108.32,267.90 109.23,267.89 110.15,267.88 111.07,267.87 111.98,267.85 112.90,267.83 113.82,267.81 114.73,267.79 115.65,267.77 116.57,267.74 117.48,267.72 118.40,267.69 119.32,267.65 120.23,267.62 121.15,267.58 122.07,267.54 122.98,267.50 123.90,267.46 124.82,267.42 125.73,267.38 126.65,267.34 127.57,267.30 128.48,267.26 129.40,267.22 130.32,267.18 131.23,267.15 132.15,267.11 133.07,267.08 133.98,267.06 134.90,267.03 135.82,267.00 136.73,266.98 137.65,266.96 138.57,266.95 139.48,266.93 140.40,266.92" fill="none" stroke="#c84262" stroke-width="1.05"/>
<circle cx="85.40" cy="267.28" r="1.45" fill="#fbe4e9" stroke="#8f3a55" stroke-width="0.7"/>
<circle cx="97.40" cy="271.01" r="1.45" fill="#fbe4e9" stroke="#8f3a55" stroke-width="0.7"/>
<path d="M104.60 269.38V271.24M103.50 269.38h2.2M103.50 271.24h2.2" stroke="#4a4a4a" stroke-width="0.75" fill="none"/>
<circle cx="104.60" cy="270.31" r="1.45" fill="#fbe4e9" stroke="#8f3a55" stroke-width="0.7"/>
<path d="M111.70 266.81V273.81M110.60 266.81h2.2M110.60 273.81h2.2" stroke="#4a4a4a" stroke-width="0.75" fill="none"/>
<circle cx="111.70" cy="270.31" r="1.45" fill="#fbe4e9" stroke="#8f3a55" stroke-width="0.7"/>
<path d="M119.10 267.51V270.78M118.00 267.51h2.2M118.00 270.78h2.2" stroke="#4a4a4a" stroke-width="0.75" fill="none"/>
<circle cx="119.10" cy="269.15" r="1.45" fill="#fbe4e9" stroke="#8f3a55" stroke-width="0.7"/>
<path d="M126.20 266.11V270.31M125.10 266.11h2.2M125.10 270.31h2.2" stroke="#4a4a4a" stroke-width="0.75" fill="none"/>
<circle cx="126.20" cy="268.21" r="1.45" fill="#fbe4e9" stroke="#8f3a55" stroke-width="0.7"/>
<path d="M133.30 264.25V268.91M132.20 264.25h2.2M132.20 268.91h2.2" stroke="#4a4a4a" stroke-width="0.75" fill="none"/>
<circle cx="133.30" cy="266.58" r="1.45" fill="#fbe4e9" stroke="#8f3a55" stroke-width="0.7"/>
<circle cx="140.40" cy="267.28" r="1.45" fill="#fbe4e9" stroke="#8f3a55" stroke-width="0.7"/>
<text x="189.90" y="251.30" font-size="7.0" stroke="#231f20" stroke-width="0.18" text-anchor="middle" >LP9</text>
<line x1="159.40" y1="278.24" x2="220.40" y2="278.24" stroke="#d2d2d2" stroke-width="1.1" />
<line x1="159.95" y1="291.50" x2="219.90" y2="291.50" stroke="#231f20" stroke-width="0.95" />
<line x1="160.40" y1="291.50" x2="160.40" y2="293.90" stroke="#231f20" stroke-width="0.8" />
<text x="160.40" y="302.10" font-size="6.5" stroke="#231f20" stroke-width="0.1" text-anchor="middle" >0</text>
<line x1="175.15" y1="291.50" x2="175.15" y2="293.90" stroke="#231f20" stroke-width="0.8" />
<text x="175.15" y="302.10" font-size="6.5" stroke="#231f20" stroke-width="0.1" text-anchor="middle" >1</text>
<line x1="189.90" y1="291.50" x2="189.90" y2="293.90" stroke="#231f20" stroke-width="0.8" />
<text x="189.90" y="302.10" font-size="6.5" stroke="#231f20" stroke-width="0.1" text-anchor="middle" >10</text>
<line x1="204.65" y1="291.50" x2="204.65" y2="293.90" stroke="#231f20" stroke-width="0.8" />
<text x="204.65" y="302.10" font-size="6.5" stroke="#231f20" stroke-width="0.1" text-anchor="middle" >100</text>
<line x1="219.40" y1="291.50" x2="219.40" y2="293.90" stroke="#231f20" stroke-width="0.8" />
<text x="219.40" y="302.10" font-size="6.5" stroke="#231f20" stroke-width="0.1" text-anchor="middle" >1000</text>
<polyline points="160.40,270.66 161.32,270.66 162.23,270.66 163.15,270.66 164.07,270.66 164.98,270.66 165.90,270.66 166.82,270.66 167.73,270.66 168.65,270.66 169.57,270.66 170.48,270.66 171.40,270.66 172.32,270.66 173.23,270.66 174.15,270.66 175.07,270.66 175.98,270.66 176.90,270.66 177.82,270.66 178.73,270.66 179.65,270.66 180.57,270.66 181.48,270.66 182.40,270.66 183.32,270.66 184.23,270.66 185.15,270.66 186.07,270.66 186.98,270.66 187.90,270.66 188.82,270.66 189.73,270.65 190.65,270.65 191.57,270.63 192.48,270.61 193.40,270.58 194.32,270.52 195.23,270.41 196.15,270.24 197.07,269.98 197.98,269.60 198.90,269.13 199.82,268.62 200.73,268.14 201.65,267.76 202.57,267.49 203.48,267.31 204.40,267.20 205.32,267.13 206.23,267.10 207.15,267.07 208.07,267.06 208.98,267.06 209.90,267.05 210.82,267.05 211.73,267.05 212.65,267.05 213.57,267.05 214.48,267.05 215.40,267.05" fill="none" stroke="#c84262" stroke-width="1.05"/>
<path d="M160.40 263.08V274.74M159.30 263.08h2.2M159.30 274.74h2.2" stroke="#4a4a4a" stroke-width="0.75" fill="none"/>
<circle cx="160.40" cy="268.91" r="1.45" fill="#fbe4e9" stroke="#8f3a55" stroke-width="0.7"/>
<path d="M172.40 268.68V272.41M171.30 268.68h2.2M171.30 272.41h2.2" stroke="#4a4a4a" stroke-width="0.75" fill="none"/>
<circle cx="172.40" cy="270.54" r="1.45" fill="#fbe4e9" stroke="#8f3a55" stroke-width="0.7"/>
<path d="M179.60 268.91V275.44M178.50 268.91h2.2M178.50 275.44h2.2" stroke="#4a4a4a" stroke-width="0.75" fill="none"/>
<circle cx="179.60" cy="272.18" r="1.45" fill="#fbe4e9" stroke="#8f3a55" stroke-width="0.7"/>
<path d="M186.70 268.91V275.44M185.60 268.91h2.2M185.60 275.44h2.2" stroke="#4a4a4a" stroke-width="0.75" fill="none"/>
<circle cx="186.70" cy="272.18" r="1.45" fill="#fbe4e9" stroke="#8f3a55" stroke-width="0.7"/>
<path d="M194.10 268.45V272.18M193.00 268.45h2.2M193.00 272.18h2.2" stroke="#4a4a4a" stroke-width="0.75" fill="none"/>
<circle cx="194.10" cy="270.31" r="1.45" fill="#fbe4e9" stroke="#8f3a55" stroke-width="0.7"/>
<circle cx="201.20" cy="268.21" r="1.45" fill="#fbe4e9" stroke="#8f3a55" stroke-width="0.7"/>
<circle cx="208.30" cy="266.58" r="1.45" fill="#fbe4e9" stroke="#8f3a55" stroke-width="0.7"/>
<circle cx="215.40" cy="267.51" r="1.45" fill="#fbe4e9" stroke="#8f3a55" stroke-width="0.7"/>
<text x="263.90" y="251.30" font-size="7.0" stroke="#231f20" stroke-width="0.18" text-anchor="middle" >LP11</text>
<line x1="233.40" y1="278.24" x2="294.40" y2="278.24" stroke="#d2d2d2" stroke-width="1.1" />
<line x1="233.95" y1="291.50" x2="293.90" y2="291.50" stroke="#231f20" stroke-width="0.95" />
<line x1="234.40" y1="291.50" x2="234.40" y2="293.90" stroke="#231f20" stroke-width="0.8" />
<text x="234.40" y="302.10" font-size="6.5" stroke="#231f20" stroke-width="0.1" text-anchor="middle" >0</text>
<line x1="249.15" y1="291.50" x2="249.15" y2="293.90" stroke="#231f20" stroke-width="0.8" />
<text x="249.15" y="302.10" font-size="6.5" stroke="#231f20" stroke-width="0.1" text-anchor="middle" >1</text>
<line x1="263.90" y1="291.50" x2="263.90" y2="293.90" stroke="#231f20" stroke-width="0.8" />
<text x="263.90" y="302.10" font-size="6.5" stroke="#231f20" stroke-width="0.1" text-anchor="middle" >10</text>
<line x1="278.65" y1="291.50" x2="278.65" y2="293.90" stroke="#231f20" stroke-width="0.8" />
<text x="278.65" y="302.10" font-size="6.5" stroke="#231f20" stroke-width="0.1" text-anchor="middle" >100</text>
<line x1="293.40" y1="291.50" x2="293.40" y2="293.90" stroke="#231f20" stroke-width="0.8" />
<text x="293.40" y="302.10" font-size="6.5" stroke="#231f20" stroke-width="0.1" text-anchor="middle" >1000</text>
<polyline points="234.40,270.54 235.32,270.54 236.23,270.54 237.15,270.54 238.07,270.54 238.98,270.54 239.90,270.54 240.82,270.54 241.73,270.54 242.65,270.54 243.57,270.54 244.48,270.54 245.40,270.54 246.32,270.54 247.23,270.54 248.15,270.54 249.07,270.54 249.98,270.54 250.90,270.54 251.82,270.54 252.73,270.54 253.65,270.54 254.57,270.54 255.48,270.54 256.40,270.54 257.32,270.54 258.23,270.54 259.15,270.54 260.07,270.54 260.98,270.54 261.90,270.54 262.82,270.54 263.73,270.54 264.65,270.54 265.57,270.54 266.48,270.54 267.40,270.54 268.32,270.54 269.23,270.54 270.15,270.54 271.07,270.54 271.98,270.54 272.90,270.54 273.82,270.54 274.73,270.54 275.65,270.54 276.57,270.54 277.48,270.54 278.40,270.54 279.32,270.53 280.23,270.50 281.15,270.41 282.07,270.17 282.98,269.68 283.90,269.03 284.82,268.55 285.73,268.33 286.65,268.25 287.57,268.23 288.48,268.22 289.40,268.21" fill="none" stroke="#c84262" stroke-width="1.05"/>
<path d="M234.40 263.32V272.18M233.30 263.32h2.2M233.30 272.18h2.2" stroke="#4a4a4a" stroke-width="0.75" fill="none"/>
<circle cx="234.40" cy="267.75" r="1.45" fill="#fbe4e9" stroke="#8f3a55" stroke-width="0.7"/>
<circle cx="246.40" cy="269.61" r="1.45" fill="#fbe4e9" stroke="#8f3a55" stroke-width="0.7"/>
<path d="M253.60 270.08V278.01M252.50 270.08h2.2M252.50 278.01h2.2" stroke="#4a4a4a" stroke-width="0.75" fill="none"/>
<circle cx="253.60" cy="274.04" r="1.45" fill="#fbe4e9" stroke="#8f3a55" stroke-width="0.7"/>
<path d="M260.70 269.38V272.64M259.60 269.38h2.2M259.60 272.64h2.2" stroke="#4a4a4a" stroke-width="0.75" fill="none"/>
<circle cx="260.70" cy="271.01" r="1.45" fill="#fbe4e9" stroke="#8f3a55" stroke-width="0.7"/>
<circle cx="268.10" cy="271.71" r="1.45" fill="#fbe4e9" stroke="#8f3a55" stroke-width="0.7"/>
<circle cx="275.20" cy="272.88" r="1.45" fill="#fbe4e9" stroke="#8f3a55" stroke-width="0.7"/>
<path d="M282.30 266.58V271.24M281.20 266.58h2.2M281.20 271.24h2.2" stroke="#4a4a4a" stroke-width="0.75" fill="none"/>
<circle cx="282.30" cy="268.91" r="1.45" fill="#fbe4e9" stroke="#8f3a55" stroke-width="0.7"/>
<path d="M289.40 265.65V269.84M288.30 265.65h2.2M288.30 269.84h2.2" stroke="#4a4a4a" stroke-width="0.75" fill="none"/>
<circle cx="289.40" cy="267.75" r="1.45" fill="#fbe4e9" stroke="#8f3a55" stroke-width="0.7"/>
<text x="338.00" y="251.30" font-size="7.0" stroke="#231f20" stroke-width="0.18" text-anchor="middle" >LP18</text>
<line x1="307.50" y1="278.24" x2="368.50" y2="278.24" stroke="#d2d2d2" stroke-width="1.1" />
<line x1="308.05" y1="291.50" x2="368.00" y2="291.50" stroke="#231f20" stroke-width="0.95" />
<line x1="308.50" y1="291.50" x2="308.50" y2="293.90" stroke="#231f20" stroke-width="0.8" />
<text x="308.50" y="302.10" font-size="6.5" stroke="#231f20" stroke-width="0.1" text-anchor="middle" >0</text>
<line x1="323.25" y1="291.50" x2="323.25" y2="293.90" stroke="#231f20" stroke-width="0.8" />
<text x="323.25" y="302.10" font-size="6.5" stroke="#231f20" stroke-width="0.1" text-anchor="middle" >1</text>
<line x1="338.00" y1="291.50" x2="338.00" y2="293.90" stroke="#231f20" stroke-width="0.8" />
<text x="338.00" y="302.10" font-size="6.5" stroke="#231f20" stroke-width="0.1" text-anchor="middle" >10</text>
<line x1="352.75" y1="291.50" x2="352.75" y2="293.90" stroke="#231f20" stroke-width="0.8" />
<text x="352.75" y="302.10" font-size="6.5" stroke="#231f20" stroke-width="0.1" text-anchor="middle" >100</text>
<line x1="367.50" y1="291.50" x2="367.50" y2="293.90" stroke="#231f20" stroke-width="0.8" />
<text x="367.50" y="302.10" font-size="6.5" stroke="#231f20" stroke-width="0.1" text-anchor="middle" >1000</text>
<polyline points="308.50,272.18 309.42,272.18 310.33,272.18 311.25,272.18 312.17,272.18 313.08,272.18 314.00,272.18 314.92,272.18 315.83,272.18 316.75,272.18 317.67,272.18 318.58,272.18 319.50,272.18 320.42,272.18 321.33,272.18 322.25,272.18 323.17,272.18 324.08,272.18 325.00,272.18 325.92,272.18 326.83,272.18 327.75,272.18 328.67,272.18 329.58,272.17 330.50,272.17 331.42,272.17 332.33,272.16 333.25,272.15 334.17,272.13 335.08,272.09 336.00,272.02 336.92,271.91 337.83,271.73 338.75,271.43 339.67,270.99 340.58,270.41 341.50,269.73 342.42,269.05 343.33,268.46 344.25,268.03 345.17,267.73 346.08,267.54 347.00,267.43 347.92,267.37 348.83,267.33 349.75,267.31 350.67,267.30 351.58,267.29 352.50,267.28 353.42,267.28 354.33,267.28 355.25,267.28 356.17,267.28 357.08,267.28 358.00,267.28 358.92,267.28 359.83,267.28 360.75,267.28 361.67,267.28 362.58,267.28 363.50,267.28" fill="none" stroke="#c84262" stroke-width="1.05"/>
<path d="M308.50 265.65V276.84M307.40 265.65h2.2M307.40 276.84h2.2" stroke="#4a4a4a" stroke-width="0.75" fill="none"/>
<circle cx="308.50" cy="271.24" r="1.45" fill="#fbe4e9" stroke="#8f3a55" stroke-width="0.7"/>
<circle cx="320.50" cy="272.18" r="1.45" fill="#fbe4e9" stroke="#8f3a55" stroke-width="0.7"/>
<path d="M327.70 272.88V275.67M326.60 272.88h2.2M326.60 275.67h2.2" stroke="#4a4a4a" stroke-width="0.75" fill="none"/>
<circle cx="327.70" cy="274.28" r="1.45" fill="#fbe4e9" stroke="#8f3a55" stroke-width="0.7"/>
<path d="M334.80 270.78V274.98M333.70 270.78h2.2M333.70 274.98h2.2" stroke="#4a4a4a" stroke-width="0.75" fill="none"/>
<circle cx="334.80" cy="272.88" r="1.45" fill="#fbe4e9" stroke="#8f3a55" stroke-width="0.7"/>
<circle cx="342.20" cy="269.15" r="1.45" fill="#fbe4e9" stroke="#8f3a55" stroke-width="0.7"/>
<circle cx="349.30" cy="265.88" r="1.45" fill="#fbe4e9" stroke="#8f3a55" stroke-width="0.7"/>
<path d="M356.40 263.55V271.94M355.30 263.55h2.2M355.30 271.94h2.2" stroke="#4a4a4a" stroke-width="0.75" fill="none"/>
<circle cx="356.40" cy="267.75" r="1.45" fill="#fbe4e9" stroke="#8f3a55" stroke-width="0.7"/>
<path d="M363.50 266.11V269.38M362.40 266.11h2.2M362.40 269.38h2.2" stroke="#4a4a4a" stroke-width="0.75" fill="none"/>
<circle cx="363.50" cy="267.75" r="1.45" fill="#fbe4e9" stroke="#8f3a55" stroke-width="0.7"/>
<line x1="63.20" y1="13.50" x2="63.20" y2="288.50" stroke="#4d4d4d" stroke-width="0.9" />
<path d="M63.2 9.8L65.0 14.4L61.4 14.4Z" fill="#4d4d4d"/>
<line x1="89.00" y1="305.40" x2="448.50" y2="305.40" stroke="#4d4d4d" stroke-width="0.9" />
<path d="M452.4 305.4L447.8 303.6L447.8 307.2Z" fill="#4d4d4d"/>
<line x1="452.50" y1="7.00" x2="452.50" y2="168.00" stroke="#6b6b6b" stroke-width="0.9" />
<line x1="452.50" y1="176.00" x2="452.50" y2="231.60" stroke="#6b6b6b" stroke-width="0.9" />
<line x1="452.50" y1="238.80" x2="452.50" y2="299.00" stroke="#6b6b6b" stroke-width="0.9" />
<text x="472.30" y="86.90" font-size="7.5" stroke="#231f20" stroke-width="0.3" text-anchor="middle" textLength="17.70" lengthAdjust="spacingAndGlyphs" >Strong</text>
<text x="472.30" y="96.90" font-size="7.5" stroke="#231f20" stroke-width="0.3" text-anchor="middle" textLength="24.90" lengthAdjust="spacingAndGlyphs" >inhibition</text>
<text x="472.30" y="206.00" font-size="7.5" stroke="#231f20" stroke-width="0.3" text-anchor="middle" textLength="25.50" lengthAdjust="spacingAndGlyphs" >Moderate</text>
<text x="472.30" y="216.60" font-size="7.5" stroke="#231f20" stroke-width="0.3" text-anchor="middle" textLength="24.90" lengthAdjust="spacingAndGlyphs" >inhibition</text>
<text x="472.30" y="267.50" font-size="7.5" stroke="#231f20" stroke-width="0.3" text-anchor="middle" textLength="8.20" lengthAdjust="spacingAndGlyphs" >No</text>
<text x="472.30" y="278.20" font-size="7.5" stroke="#231f20" stroke-width="0.3" text-anchor="middle" textLength="24.90" lengthAdjust="spacingAndGlyphs" >inhibition</text>
<text x="271.20" y="318.90" font-size="7.5" stroke="#231f20" stroke-width="0.3" text-anchor="middle" textLength="42.30" lengthAdjust="spacingAndGlyphs" >Nanobody (nM)</text>
<text x="0" y="0" font-size="7.5" text-anchor="middle" textLength="104" lengthAdjust="spacingAndGlyphs" transform="translate(54.7,150) rotate(-90)" fill="#231f20" stroke="#231f20" stroke-width="0.3">Normalized SEAP-PAR1 cleavage (%)</text>
<text x="35.20" y="17.50" font-size="10.4" stroke="#231f20" stroke-width="0.5" font-weight="bold" >A</text>
<text x="97.20" y="342.90" font-size="10.2" stroke="#231f20" stroke-width="0.5" font-weight="bold" >B</text>
<line x1="121.30" y1="348.10" x2="423.50" y2="348.10" stroke="#555" stroke-width="0.9" />
<line x1="121.30" y1="359.40" x2="423.50" y2="359.40" stroke="#555" stroke-width="0.9" />
<line x1="121.30" y1="370.90" x2="423.50" y2="370.90" stroke="#555" stroke-width="0.9" />
<line x1="121.30" y1="382.60" x2="423.50" y2="382.60" stroke="#555" stroke-width="0.9" />
<line x1="121.30" y1="393.30" x2="423.50" y2="393.30" stroke="#555" stroke-width="0.9" />
<line x1="121.30" y1="348.10" x2="121.30" y2="393.30" stroke="#555" stroke-width="0.9" />
<line x1="173.50" y1="348.10" x2="173.50" y2="393.30" stroke="#555" stroke-width="0.9" />
<line x1="363.50" y1="348.10" x2="363.50" y2="393.30" stroke="#555" stroke-width="0.9" />
<line x1="423.50" y1="348.10" x2="423.50" y2="393.30" stroke="#555" stroke-width="0.9" />
<text x="147.40" y="355.90" font-size="7.2" stroke="#231f20" stroke-width="0.18" text-anchor="middle" >Cell Line</text>
<text x="271.00" y="355.90" font-size="7.3" stroke="#231f20" stroke-width="0.18" text-anchor="middle" >PAR1 Sequence</text>
<text x="393.80" y="355.90" font-size="7.3" stroke="#231f20" stroke-width="0.18" text-anchor="middle" >Cleavage site</text>
<text x="147.40" y="368.30" font-size="7.3" stroke="#231f20" stroke-width="0.18" text-anchor="middle" >WT PAR1</text>
<text x="147.40" y="379.90" font-size="7.3" stroke="#3b73a8" stroke-width="0.18" text-anchor="middle" fill="#3b73a8" >R41Q PAR1</text>
<text x="147.40" y="391.20" font-size="7.3" stroke="#d2254f" stroke-width="0.18" text-anchor="middle" fill="#d2254f" >R41Q PAR1</text>
<text x="393.80" y="368.30" font-size="7.3" stroke="#231f20" stroke-width="0.18" text-anchor="middle" >R41 and R46</text>
<text x="393.80" y="379.90" font-size="7.3" stroke="#231f20" stroke-width="0.18" text-anchor="middle" >R46</text>
<text x="393.80" y="391.20" font-size="7.3" stroke="#231f20" stroke-width="0.18" text-anchor="middle" >R41</text>
<text x="178.60" y="368.30" font-size="7.3" stroke="#231f20" stroke-width="0.18" textLength="20.30" lengthAdjust="spacingAndGlyphs" >…L38</text>
<text x="207.00" y="368.30" font-size="7.3" stroke="#231f20" stroke-width="0.18" text-anchor="middle" >D</text>
<text x="217.00" y="368.30" font-size="7.3" stroke="#231f20" stroke-width="0.18" text-anchor="middle" >P</text>
<text x="227.00" y="368.30" font-size="7.3" stroke="#4e9a3c" stroke-width="0.18" text-anchor="middle" fill="#4e9a3c" >R</text>
<text x="237.00" y="368.30" font-size="7.3" stroke="#231f20" stroke-width="0.18" text-anchor="middle" >S</text>
<text x="247.00" y="368.30" font-size="7.3" stroke="#231f20" stroke-width="0.18" text-anchor="middle" >F</text>
<text x="257.50" y="368.30" font-size="7.3" stroke="#231f20" stroke-width="0.18" text-anchor="middle" >L</text>
<text x="267.50" y="368.30" font-size="7.3" stroke="#231f20" stroke-width="0.18" text-anchor="middle" >L</text>
<text x="278.00" y="368.30" font-size="7.3" stroke="#4e9a3c" stroke-width="0.18" text-anchor="middle" fill="#4e9a3c" >R</text>
<text x="288.60" y="368.30" font-size="7.3" stroke="#231f20" stroke-width="0.18" text-anchor="middle" >N</text>
<text x="299.00" y="368.30" font-size="7.3" stroke="#231f20" stroke-width="0.18" text-anchor="middle" >P</text>
<text x="309.40" y="368.30" font-size="7.3" stroke="#231f20" stroke-width="0.18" text-anchor="middle" >N</text>
<text x="320.10" y="368.30" font-size="7.3" stroke="#231f20" stroke-width="0.18" text-anchor="middle" >D</text>
<text x="329.90" y="368.30" font-size="7.3" stroke="#231f20" stroke-width="0.18" text-anchor="middle" >K</text>
<text x="338.00" y="368.30" font-size="7.3" stroke="#231f20" stroke-width="0.18" textLength="20.70" lengthAdjust="spacingAndGlyphs" >Y52…</text>
<text x="178.60" y="379.90" font-size="7.3" stroke="#231f20" stroke-width="0.18" textLength="20.30" lengthAdjust="spacingAndGlyphs" >…L38</text>
<text x="207.00" y="379.90" font-size="7.3" stroke="#231f20" stroke-width="0.18" text-anchor="middle" >D</text>
<text x="217.00" y="379.90" font-size="7.3" stroke="#231f20" stroke-width="0.18" text-anchor="middle" >P</text>
<text x="227.00" y="379.90" font-size="7.3" stroke="#e6b422" stroke-width="0.18" text-anchor="middle" fill="#e6b422" >Q</text>
<text x="237.00" y="379.90" font-size="7.3" stroke="#231f20" stroke-width="0.18" text-anchor="middle" >S</text>
<text x="247.00" y="379.90" font-size="7.3" stroke="#231f20" stroke-width="0.18" text-anchor="middle" >F</text>
<text x="257.50" y="379.90" font-size="7.3" stroke="#231f20" stroke-width="0.18" text-anchor="middle" >L</text>
<text x="267.50" y="379.90" font-size="7.3" stroke="#231f20" stroke-width="0.18" text-anchor="middle" >L</text>
<text x="278.00" y="379.90" font-size="7.3" stroke="#4e9a3c" stroke-width="0.18" text-anchor="middle" fill="#4e9a3c" >R</text>
<text x="288.60" y="379.90" font-size="7.3" stroke="#231f20" stroke-width="0.18" text-anchor="middle" >N</text>
<text x="299.00" y="379.90" font-size="7.3" stroke="#231f20" stroke-width="0.18" text-anchor="middle" >P</text>
<text x="309.40" y="379.90" font-size="7.3" stroke="#231f20" stroke-width="0.18" text-anchor="middle" >N</text>
<text x="320.10" y="379.90" font-size="7.3" stroke="#231f20" stroke-width="0.18" text-anchor="middle" >D</text>
<text x="329.90" y="379.90" font-size="7.3" stroke="#231f20" stroke-width="0.18" text-anchor="middle" >K</text>
<text x="338.00" y="379.90" font-size="7.3" stroke="#231f20" stroke-width="0.18" textLength="20.70" lengthAdjust="spacingAndGlyphs" >Y52…</text>
<text x="178.60" y="391.20" font-size="7.3" stroke="#231f20" stroke-width="0.18" textLength="20.30" lengthAdjust="spacingAndGlyphs" >…L38</text>
<text x="207.00" y="391.20" font-size="7.3" stroke="#231f20" stroke-width="0.18" text-anchor="middle" >D</text>
<text x="217.00" y="391.20" font-size="7.3" stroke="#231f20" stroke-width="0.18" text-anchor="middle" >P</text>
<text x="227.00" y="391.20" font-size="7.3" stroke="#4e9a3c" stroke-width="0.18" text-anchor="middle" fill="#4e9a3c" >R</text>
<text x="237.00" y="391.20" font-size="7.3" stroke="#231f20" stroke-width="0.18" text-anchor="middle" >S</text>
<text x="247.00" y="391.20" font-size="7.3" stroke="#231f20" stroke-width="0.18" text-anchor="middle" >F</text>
<text x="257.50" y="391.20" font-size="7.3" stroke="#231f20" stroke-width="0.18" text-anchor="middle" >L</text>
<text x="267.50" y="391.20" font-size="7.3" stroke="#231f20" stroke-width="0.18" text-anchor="middle" >L</text>
<text x="278.00" y="391.20" font-size="7.3" stroke="#e6b422" stroke-width="0.18" text-anchor="middle" fill="#e6b422" >Q</text>
<text x="288.60" y="391.20" font-size="7.3" stroke="#231f20" stroke-width="0.18" text-anchor="middle" >N</text>
<text x="299.00" y="391.20" font-size="7.3" stroke="#231f20" stroke-width="0.18" text-anchor="middle" >P</text>
<text x="309.40" y="391.20" font-size="7.3" stroke="#231f20" stroke-width="0.18" text-anchor="middle" >N</text>
<text x="320.10" y="391.20" font-size="7.3" stroke="#231f20" stroke-width="0.18" text-anchor="middle" >D</text>
<text x="329.90" y="391.20" font-size="7.3" stroke="#231f20" stroke-width="0.18" text-anchor="middle" >K</text>
<text x="338.00" y="391.20" font-size="7.3" stroke="#231f20" stroke-width="0.18" textLength="20.70" lengthAdjust="spacingAndGlyphs" >Y52…</text>
<text x="7.00" y="414.60" font-size="10.2" stroke="#231f20" stroke-width="0.5" font-weight="bold" >C</text>
<text x="85.50" y="421.00" font-size="6.9" stroke="#231f20" stroke-width="0.18" text-anchor="middle" >LP8</text>
<line x1="45.60" y1="481.25" x2="45.60" y2="428.40" stroke="#231f20" stroke-width="0.95" />
<line x1="45.15" y1="480.80" x2="124.10" y2="480.80" stroke="#231f20" stroke-width="0.95" />
<line x1="43.20" y1="480.20" x2="45.60" y2="480.20" stroke="#231f20" stroke-width="0.8" />
<text x="40.30" y="482.40" font-size="6.2" stroke="#231f20" stroke-width="0.18" text-anchor="end" textLength="3.60" lengthAdjust="spacingAndGlyphs" >0</text>
<line x1="43.20" y1="471.82" x2="45.60" y2="471.82" stroke="#231f20" stroke-width="0.8" />
<text x="40.30" y="474.02" font-size="6.2" stroke="#231f20" stroke-width="0.18" text-anchor="end" textLength="7.20" lengthAdjust="spacingAndGlyphs" >25</text>
<line x1="43.20" y1="463.44" x2="45.60" y2="463.44" stroke="#231f20" stroke-width="0.8" />
<text x="40.30" y="465.63" font-size="6.2" stroke="#231f20" stroke-width="0.18" text-anchor="end" textLength="7.20" lengthAdjust="spacingAndGlyphs" >50</text>
<line x1="43.20" y1="455.05" x2="45.60" y2="455.05" stroke="#231f20" stroke-width="0.8" />
<text x="40.30" y="457.25" font-size="6.2" stroke="#231f20" stroke-width="0.18" text-anchor="end" textLength="7.20" lengthAdjust="spacingAndGlyphs" >75</text>
<line x1="43.20" y1="446.67" x2="45.60" y2="446.67" stroke="#231f20" stroke-width="0.8" />
<text x="40.30" y="448.87" font-size="6.2" stroke="#231f20" stroke-width="0.18" text-anchor="end" textLength="10.80" lengthAdjust="spacingAndGlyphs" >100</text>
<line x1="43.20" y1="438.29" x2="45.60" y2="438.29" stroke="#231f20" stroke-width="0.8" />
<text x="40.30" y="440.49" font-size="6.2" stroke="#231f20" stroke-width="0.18" text-anchor="end" textLength="10.80" lengthAdjust="spacingAndGlyphs" >125</text>
<line x1="43.20" y1="429.90" x2="45.60" y2="429.90" stroke="#231f20" stroke-width="0.8" />
<text x="40.30" y="432.10" font-size="6.2" stroke="#231f20" stroke-width="0.18" text-anchor="end" textLength="10.80" lengthAdjust="spacingAndGlyphs" >150</text>
<line x1="45.60" y1="480.80" x2="45.60" y2="483.20" stroke="#231f20" stroke-width="0.8" />
<text x="45.60" y="492.50" font-size="6.2" stroke="#231f20" stroke-width="0.18" text-anchor="middle" >0</text>
<line x1="65.10" y1="480.80" x2="65.10" y2="483.20" stroke="#231f20" stroke-width="0.8" />
<text x="65.10" y="492.50" font-size="6.2" stroke="#231f20" stroke-width="0.18" text-anchor="middle" >1</text>
<line x1="84.60" y1="480.80" x2="84.60" y2="483.20" stroke="#231f20" stroke-width="0.8" />
<text x="84.60" y="492.50" font-size="6.2" stroke="#231f20" stroke-width="0.18" text-anchor="middle" >10</text>
<line x1="104.10" y1="480.80" x2="104.10" y2="483.20" stroke="#231f20" stroke-width="0.8" />
<text x="104.10" y="492.50" font-size="6.2" stroke="#231f20" stroke-width="0.18" text-anchor="middle" >100</text>
<line x1="123.60" y1="480.80" x2="123.60" y2="483.20" stroke="#231f20" stroke-width="0.8" />
<text x="123.60" y="492.50" font-size="6.2" stroke="#231f20" stroke-width="0.18" text-anchor="middle" >1000</text>
<line x1="75.80" y1="431.80" x2="81.00" y2="431.80" stroke="#34495e" stroke-width="0.9" />
<circle cx="78.40" cy="431.80" r="0.9" fill="#1c3550"/>
<text x="83.80" y="434.00" font-size="6.4" stroke="#231f20" stroke-width="0.18" textLength="34.30" lengthAdjust="spacingAndGlyphs" >R41Q PAR1</text>
<line x1="75.80" y1="440.10" x2="81.00" y2="440.10" stroke="#8e3a44" stroke-width="0.9" />
<circle cx="78.40" cy="440.10" r="0.9" fill="#b0283a"/>
<text x="83.80" y="442.30" font-size="6.4" stroke="#231f20" stroke-width="0.18" textLength="34.30" lengthAdjust="spacingAndGlyphs" >R46Q PAR1</text>
<polyline points="45.60,446.67 61.46,456.73 70.98,464.44 80.37,467.46 90.15,468.46 99.54,476.51 108.92,477.18 118.31,475.17" fill="none" stroke="#8e3a44" stroke-width="0.95"/>
<circle cx="45.60" cy="446.67" r="1.0" fill="#b0283a"/>
<path d="M61.46 455.05V458.41M60.46 455.05h2M60.46 458.41h2" stroke="#8e3a44" stroke-width="0.7" fill="none"/>
<circle cx="61.46" cy="456.73" r="1.0" fill="#b0283a"/>
<path d="M70.98 463.77V465.11M69.98 463.77h2M69.98 465.11h2" stroke="#8e3a44" stroke-width="0.7" fill="none"/>
<circle cx="70.98" cy="464.44" r="1.0" fill="#b0283a"/>
<path d="M80.37 466.79V468.13M79.37 466.79h2M79.37 468.13h2" stroke="#8e3a44" stroke-width="0.7" fill="none"/>
<circle cx="80.37" cy="467.46" r="1.0" fill="#b0283a"/>
<path d="M90.15 467.79V469.14M89.15 467.79h2M89.15 469.14h2" stroke="#8e3a44" stroke-width="0.7" fill="none"/>
<circle cx="90.15" cy="468.46" r="1.0" fill="#b0283a"/>
<circle cx="99.54" cy="476.51" r="1.0" fill="#b0283a"/>
<circle cx="108.92" cy="477.18" r="1.0" fill="#b0283a"/>
<circle cx="118.31" cy="475.17" r="1.0" fill="#b0283a"/>
<polyline points="45.60,446.67 61.46,453.38 70.98,459.08 80.37,463.77 90.15,467.79 99.54,472.82 108.92,477.18 118.31,479.86" fill="none" stroke="#34495e" stroke-width="0.95"/>
<circle cx="45.60" cy="446.67" r="1.0" fill="#1c3550"/>
<path d="M61.46 452.37V454.38M60.46 452.37h2M60.46 454.38h2" stroke="#2a3440" stroke-width="0.7" fill="none"/>
<circle cx="61.46" cy="453.38" r="1.0" fill="#1c3550"/>
<path d="M70.98 458.41V459.75M69.98 458.41h2M69.98 459.75h2" stroke="#2a3440" stroke-width="0.7" fill="none"/>
<circle cx="70.98" cy="459.08" r="1.0" fill="#1c3550"/>
<path d="M80.37 463.10V464.44M79.37 463.10h2M79.37 464.44h2" stroke="#2a3440" stroke-width="0.7" fill="none"/>
<circle cx="80.37" cy="463.77" r="1.0" fill="#1c3550"/>
<path d="M90.15 467.12V468.46M89.15 467.12h2M89.15 468.46h2" stroke="#2a3440" stroke-width="0.7" fill="none"/>
<circle cx="90.15" cy="467.79" r="1.0" fill="#1c3550"/>
<circle cx="99.54" cy="472.82" r="1.0" fill="#1c3550"/>
<circle cx="108.92" cy="477.18" r="1.0" fill="#1c3550"/>
<circle cx="118.31" cy="479.86" r="1.0" fill="#1c3550"/>
<text font-size="6.3" text-anchor="middle" textLength="56.5" lengthAdjust="spacingAndGlyphs" transform="translate(11.70,455.50) rotate(-90)" fill="#231f20" stroke="#231f20" stroke-width="0.28">Normalized SEAP-PAR1</text>
<text font-size="6.3" text-anchor="middle" textLength="31" lengthAdjust="spacingAndGlyphs" transform="translate(21.70,455.70) rotate(-90)" fill="#231f20" stroke="#231f20" stroke-width="0.28">cleavage (%)</text>
<text x="85.10" y="503.20" font-size="6.8" stroke="#231f20" stroke-width="0.3" text-anchor="middle" textLength="37.50" lengthAdjust="spacingAndGlyphs" >Nanobody (nM)</text>
<text x="205.50" y="421.20" font-size="6.9" stroke="#231f20" stroke-width="0.18" text-anchor="middle" >LP8</text>
<line x1="167.80" y1="456.00" x2="244.80" y2="456.00" stroke="#d5d5d5" stroke-width="1.0" />
<line x1="166.80" y1="482.25" x2="166.80" y2="428.70" stroke="#231f20" stroke-width="0.95" />
<line x1="166.35" y1="481.80" x2="245.40" y2="481.80" stroke="#231f20" stroke-width="0.95" />
<line x1="164.40" y1="481.80" x2="166.80" y2="481.80" stroke="#231f20" stroke-width="0.8" />
<text x="162.00" y="484.00" font-size="6.2" stroke="#231f20" stroke-width="0.18" text-anchor="end" textLength="13.00" lengthAdjust="spacingAndGlyphs" >0.00</text>
<line x1="164.40" y1="475.35" x2="166.80" y2="475.35" stroke="#231f20" stroke-width="0.8" />
<text x="162.00" y="477.55" font-size="6.2" stroke="#231f20" stroke-width="0.18" text-anchor="end" textLength="13.00" lengthAdjust="spacingAndGlyphs" >0.25</text>
<line x1="164.40" y1="468.90" x2="166.80" y2="468.90" stroke="#231f20" stroke-width="0.8" />
<text x="162.00" y="471.10" font-size="6.2" stroke="#231f20" stroke-width="0.18" text-anchor="end" textLength="13.00" lengthAdjust="spacingAndGlyphs" >0.50</text>
<line x1="164.40" y1="462.45" x2="166.80" y2="462.45" stroke="#231f20" stroke-width="0.8" />
<text x="162.00" y="464.65" font-size="6.2" stroke="#231f20" stroke-width="0.18" text-anchor="end" textLength="13.00" lengthAdjust="spacingAndGlyphs" >0.75</text>
<line x1="164.40" y1="456.00" x2="166.80" y2="456.00" stroke="#231f20" stroke-width="0.8" />
<text x="162.00" y="458.20" font-size="6.2" stroke="#231f20" stroke-width="0.18" text-anchor="end" textLength="13.00" lengthAdjust="spacingAndGlyphs" >1.00</text>
<line x1="164.40" y1="449.55" x2="166.80" y2="449.55" stroke="#231f20" stroke-width="0.8" />
<text x="162.00" y="451.75" font-size="6.2" stroke="#231f20" stroke-width="0.18" text-anchor="end" textLength="13.00" lengthAdjust="spacingAndGlyphs" >1.25</text>
<line x1="164.40" y1="443.10" x2="166.80" y2="443.10" stroke="#231f20" stroke-width="0.8" />
<text x="162.00" y="445.30" font-size="6.2" stroke="#231f20" stroke-width="0.18" text-anchor="end" textLength="13.00" lengthAdjust="spacingAndGlyphs" >1.50</text>
<line x1="164.40" y1="436.65" x2="166.80" y2="436.65" stroke="#231f20" stroke-width="0.8" />
<text x="162.00" y="438.85" font-size="6.2" stroke="#231f20" stroke-width="0.18" text-anchor="end" textLength="13.00" lengthAdjust="spacingAndGlyphs" >1.75</text>
<line x1="164.40" y1="430.20" x2="166.80" y2="430.20" stroke="#231f20" stroke-width="0.8" />
<text x="162.00" y="432.40" font-size="6.2" stroke="#231f20" stroke-width="0.18" text-anchor="end" textLength="13.00" lengthAdjust="spacingAndGlyphs" >2.00</text>
<line x1="166.80" y1="481.80" x2="166.80" y2="484.20" stroke="#231f20" stroke-width="0.8" />
<text x="166.80" y="493.10" font-size="6.2" stroke="#231f20" stroke-width="0.18" text-anchor="middle" >0</text>
<line x1="186.35" y1="481.80" x2="186.35" y2="484.20" stroke="#231f20" stroke-width="0.8" />
<text x="186.35" y="493.10" font-size="6.2" stroke="#231f20" stroke-width="0.18" text-anchor="middle" >1</text>
<line x1="205.90" y1="481.80" x2="205.90" y2="484.20" stroke="#231f20" stroke-width="0.8" />
<text x="205.90" y="493.10" font-size="6.2" stroke="#231f20" stroke-width="0.18" text-anchor="middle" >10</text>
<line x1="225.45" y1="481.80" x2="225.45" y2="484.20" stroke="#231f20" stroke-width="0.8" />
<text x="225.45" y="493.10" font-size="6.2" stroke="#231f20" stroke-width="0.18" text-anchor="middle" >100</text>
<line x1="245.00" y1="481.80" x2="245.00" y2="484.20" stroke="#231f20" stroke-width="0.8" />
<text x="245.00" y="493.10" font-size="6.2" stroke="#231f20" stroke-width="0.18" text-anchor="middle" >1000</text>
<line x1="244.40" y1="432.70" x2="244.40" y2="479.30" stroke="#2a2a2a" stroke-width="0.85" />
<path d="M244.40 428.70l1.3 3.6h-2.6Z" fill="#333"/>
<path d="M244.40 482.10l1.3 -3.6h-2.6Z" fill="#333"/>
<text x="240.80" y="434.90" font-size="6.1" stroke="#444" stroke-width="0.18" text-anchor="end" fill="#444" >increased</text>
<text x="240.80" y="441.90" font-size="6.1" stroke="#444" stroke-width="0.18" text-anchor="end" fill="#444" >cytoprotection</text>
<text x="240.80" y="465.80" font-size="6.1" stroke="#444" stroke-width="0.18" text-anchor="end" fill="#444" >reduced</text>
<text x="240.80" y="472.70" font-size="6.1" stroke="#444" stroke-width="0.18" text-anchor="end" fill="#444" >cytoprotection</text>
<polyline points="166.80,456.00 182.70,452.65 192.24,447.49 201.65,449.29 211.45,454.19 220.86,460.90 230.27,466.32 239.68,477.93" fill="none" stroke="#2b2b33" stroke-width="0.9"/>
<circle cx="166.80" cy="456.00" r="0.95" fill="#1f3550"/>
<circle cx="182.70" cy="452.65" r="0.95" fill="#1f3550"/>
<circle cx="192.24" cy="447.49" r="0.95" fill="#1f3550"/>
<circle cx="201.65" cy="449.29" r="0.95" fill="#1f3550"/>
<circle cx="211.45" cy="454.19" r="0.95" fill="#1f3550"/>
<circle cx="220.86" cy="460.90" r="0.95" fill="#1f3550"/>
<circle cx="230.27" cy="466.32" r="0.95" fill="#1f3550"/>
<circle cx="239.68" cy="477.93" r="0.95" fill="#1f3550"/>
<text font-size="6.6" text-anchor="middle" textLength="57.8" lengthAdjust="spacingAndGlyphs" transform="translate(142.10,455.50) rotate(-90)" fill="#231f20" stroke="#231f20" stroke-width="0.32">R46/R41 cleavage ratio</text>
<text x="205.80" y="504.00" font-size="6.8" stroke="#231f20" stroke-width="0.3" text-anchor="middle" textLength="37.50" lengthAdjust="spacingAndGlyphs" >Nanobody (nM)</text>
<text x="84.70" y="526.90" font-size="6.9" stroke="#231f20" stroke-width="0.18" text-anchor="middle" >LP20</text>
<line x1="45.60" y1="586.85" x2="45.60" y2="534.00" stroke="#231f20" stroke-width="0.95" />
<line x1="45.15" y1="586.40" x2="124.10" y2="586.40" stroke="#231f20" stroke-width="0.95" />
<line x1="43.20" y1="585.80" x2="45.60" y2="585.80" stroke="#231f20" stroke-width="0.8" />
<text x="40.30" y="588.00" font-size="6.2" stroke="#231f20" stroke-width="0.18" text-anchor="end" textLength="3.60" lengthAdjust="spacingAndGlyphs" >0</text>
<line x1="43.20" y1="577.42" x2="45.60" y2="577.42" stroke="#231f20" stroke-width="0.8" />
<text x="40.30" y="579.62" font-size="6.2" stroke="#231f20" stroke-width="0.18" text-anchor="end" textLength="7.20" lengthAdjust="spacingAndGlyphs" >25</text>
<line x1="43.20" y1="569.03" x2="45.60" y2="569.03" stroke="#231f20" stroke-width="0.8" />
<text x="40.30" y="571.24" font-size="6.2" stroke="#231f20" stroke-width="0.18" text-anchor="end" textLength="7.20" lengthAdjust="spacingAndGlyphs" >50</text>
<line x1="43.20" y1="560.65" x2="45.60" y2="560.65" stroke="#231f20" stroke-width="0.8" />
<text x="40.30" y="562.85" font-size="6.2" stroke="#231f20" stroke-width="0.18" text-anchor="end" textLength="7.20" lengthAdjust="spacingAndGlyphs" >75</text>
<line x1="43.20" y1="552.27" x2="45.60" y2="552.27" stroke="#231f20" stroke-width="0.8" />
<text x="40.30" y="554.47" font-size="6.2" stroke="#231f20" stroke-width="0.18" text-anchor="end" textLength="10.80" lengthAdjust="spacingAndGlyphs" >100</text>
<line x1="43.20" y1="543.89" x2="45.60" y2="543.89" stroke="#231f20" stroke-width="0.8" />
<text x="40.30" y="546.09" font-size="6.2" stroke="#231f20" stroke-width="0.18" text-anchor="end" textLength="10.80" lengthAdjust="spacingAndGlyphs" >125</text>
<line x1="43.20" y1="535.50" x2="45.60" y2="535.50" stroke="#231f20" stroke-width="0.8" />
<text x="40.30" y="537.71" font-size="6.2" stroke="#231f20" stroke-width="0.18" text-anchor="end" textLength="10.80" lengthAdjust="spacingAndGlyphs" >150</text>
<line x1="45.60" y1="586.40" x2="45.60" y2="588.80" stroke="#231f20" stroke-width="0.8" />
<text x="45.60" y="598.10" font-size="6.2" stroke="#231f20" stroke-width="0.18" text-anchor="middle" >0</text>
<line x1="65.10" y1="586.40" x2="65.10" y2="588.80" stroke="#231f20" stroke-width="0.8" />
<text x="65.10" y="598.10" font-size="6.2" stroke="#231f20" stroke-width="0.18" text-anchor="middle" >1</text>
<line x1="84.60" y1="586.40" x2="84.60" y2="588.80" stroke="#231f20" stroke-width="0.8" />
<text x="84.60" y="598.10" font-size="6.2" stroke="#231f20" stroke-width="0.18" text-anchor="middle" >10</text>
<line x1="104.10" y1="586.40" x2="104.10" y2="588.80" stroke="#231f20" stroke-width="0.8" />
<text x="104.10" y="598.10" font-size="6.2" stroke="#231f20" stroke-width="0.18" text-anchor="middle" >100</text>
<line x1="123.60" y1="586.40" x2="123.60" y2="588.80" stroke="#231f20" stroke-width="0.8" />
<text x="123.60" y="598.10" font-size="6.2" stroke="#231f20" stroke-width="0.18" text-anchor="middle" >1000</text>
<line x1="75.80" y1="533.90" x2="81.00" y2="533.90" stroke="#34495e" stroke-width="0.9" />
<circle cx="78.40" cy="533.90" r="0.9" fill="#1c3550"/>
<text x="83.80" y="536.10" font-size="6.4" stroke="#231f20" stroke-width="0.18" textLength="34.30" lengthAdjust="spacingAndGlyphs" >R41Q PAR1</text>
<line x1="75.80" y1="542.20" x2="81.00" y2="542.20" stroke="#8e3a44" stroke-width="0.9" />
<circle cx="78.40" cy="542.20" r="0.9" fill="#b0283a"/>
<text x="83.80" y="544.40" font-size="6.4" stroke="#231f20" stroke-width="0.18" textLength="34.30" lengthAdjust="spacingAndGlyphs" >R46Q PAR1</text>
<polyline points="45.60,552.27 61.46,553.95 70.98,560.32 80.37,568.70 90.15,572.05 99.54,581.44 108.92,577.42 118.31,577.08" fill="none" stroke="#8e3a44" stroke-width="0.95"/>
<circle cx="45.60" cy="552.27" r="1.0" fill="#b0283a"/>
<path d="M61.46 553.28V554.62M60.46 553.28h2M60.46 554.62h2" stroke="#8e3a44" stroke-width="0.7" fill="none"/>
<circle cx="61.46" cy="553.95" r="1.0" fill="#b0283a"/>
<path d="M70.98 559.65V560.99M69.98 559.65h2M69.98 560.99h2" stroke="#8e3a44" stroke-width="0.7" fill="none"/>
<circle cx="70.98" cy="560.32" r="1.0" fill="#b0283a"/>
<path d="M80.37 568.03V569.37M79.37 568.03h2M79.37 569.37h2" stroke="#8e3a44" stroke-width="0.7" fill="none"/>
<circle cx="80.37" cy="568.70" r="1.0" fill="#b0283a"/>
<path d="M90.15 571.38V572.72M89.15 571.38h2M89.15 572.72h2" stroke="#8e3a44" stroke-width="0.7" fill="none"/>
<circle cx="90.15" cy="572.05" r="1.0" fill="#b0283a"/>
<circle cx="99.54" cy="581.44" r="1.0" fill="#b0283a"/>
<path d="M108.92 576.75V578.09M107.92 576.75h2M107.92 578.09h2" stroke="#8e3a44" stroke-width="0.7" fill="none"/>
<circle cx="108.92" cy="577.42" r="1.0" fill="#b0283a"/>
<path d="M118.31 576.41V577.75M117.31 576.41h2M117.31 577.75h2" stroke="#8e3a44" stroke-width="0.7" fill="none"/>
<circle cx="118.31" cy="577.08" r="1.0" fill="#b0283a"/>
<polyline points="45.60,552.27 61.46,545.56 70.98,553.61 80.37,557.97 90.15,566.35 99.54,585.80 108.92,584.46 118.31,584.79" fill="none" stroke="#34495e" stroke-width="0.95"/>
<circle cx="45.60" cy="552.27" r="1.0" fill="#1c3550"/>
<path d="M61.46 542.88V548.25M60.46 542.88h2M60.46 548.25h2" stroke="#2a3440" stroke-width="0.7" fill="none"/>
<circle cx="61.46" cy="545.56" r="1.0" fill="#1c3550"/>
<path d="M70.98 551.26V555.96M69.98 551.26h2M69.98 555.96h2" stroke="#2a3440" stroke-width="0.7" fill="none"/>
<circle cx="70.98" cy="553.61" r="1.0" fill="#1c3550"/>
<path d="M80.37 555.62V560.32M79.37 555.62h2M79.37 560.32h2" stroke="#2a3440" stroke-width="0.7" fill="none"/>
<circle cx="80.37" cy="557.97" r="1.0" fill="#1c3550"/>
<path d="M90.15 563.67V569.03M89.15 563.67h2M89.15 569.03h2" stroke="#2a3440" stroke-width="0.7" fill="none"/>
<circle cx="90.15" cy="566.35" r="1.0" fill="#1c3550"/>
<circle cx="99.54" cy="585.80" r="1.0" fill="#1c3550"/>
<circle cx="108.92" cy="584.46" r="1.0" fill="#1c3550"/>
<circle cx="118.31" cy="584.79" r="1.0" fill="#1c3550"/>
<text font-size="6.3" text-anchor="middle" textLength="56.5" lengthAdjust="spacingAndGlyphs" transform="translate(11.70,561.10) rotate(-90)" fill="#231f20" stroke="#231f20" stroke-width="0.28">Normalized SEAP-PAR1</text>
<text font-size="6.3" text-anchor="middle" textLength="31" lengthAdjust="spacingAndGlyphs" transform="translate(21.70,561.30) rotate(-90)" fill="#231f20" stroke="#231f20" stroke-width="0.28">cleavage (%)</text>
<text x="85.10" y="608.80" font-size="6.8" stroke="#231f20" stroke-width="0.3" text-anchor="middle" textLength="37.50" lengthAdjust="spacingAndGlyphs" >Nanobody (nM)</text>
<text x="205.00" y="527.00" font-size="6.9" stroke="#231f20" stroke-width="0.18" text-anchor="middle" >LP20</text>
<line x1="167.80" y1="560.70" x2="244.80" y2="560.70" stroke="#d5d5d5" stroke-width="1.0" />
<line x1="166.80" y1="586.95" x2="166.80" y2="533.40" stroke="#231f20" stroke-width="0.95" />
<line x1="166.35" y1="586.50" x2="245.40" y2="586.50" stroke="#231f20" stroke-width="0.95" />
<line x1="164.40" y1="586.50" x2="166.80" y2="586.50" stroke="#231f20" stroke-width="0.8" />
<text x="162.00" y="588.70" font-size="6.2" stroke="#231f20" stroke-width="0.18" text-anchor="end" textLength="13.00" lengthAdjust="spacingAndGlyphs" >0.00</text>
<line x1="164.40" y1="580.05" x2="166.80" y2="580.05" stroke="#231f20" stroke-width="0.8" />
<text x="162.00" y="582.25" font-size="6.2" stroke="#231f20" stroke-width="0.18" text-anchor="end" textLength="13.00" lengthAdjust="spacingAndGlyphs" >0.25</text>
<line x1="164.40" y1="573.60" x2="166.80" y2="573.60" stroke="#231f20" stroke-width="0.8" />
<text x="162.00" y="575.80" font-size="6.2" stroke="#231f20" stroke-width="0.18" text-anchor="end" textLength="13.00" lengthAdjust="spacingAndGlyphs" >0.50</text>
<line x1="164.40" y1="567.15" x2="166.80" y2="567.15" stroke="#231f20" stroke-width="0.8" />
<text x="162.00" y="569.35" font-size="6.2" stroke="#231f20" stroke-width="0.18" text-anchor="end" textLength="13.00" lengthAdjust="spacingAndGlyphs" >0.75</text>
<line x1="164.40" y1="560.70" x2="166.80" y2="560.70" stroke="#231f20" stroke-width="0.8" />
<text x="162.00" y="562.90" font-size="6.2" stroke="#231f20" stroke-width="0.18" text-anchor="end" textLength="13.00" lengthAdjust="spacingAndGlyphs" >1.00</text>
<line x1="164.40" y1="554.25" x2="166.80" y2="554.25" stroke="#231f20" stroke-width="0.8" />
<text x="162.00" y="556.45" font-size="6.2" stroke="#231f20" stroke-width="0.18" text-anchor="end" textLength="13.00" lengthAdjust="spacingAndGlyphs" >1.25</text>
<line x1="164.40" y1="547.80" x2="166.80" y2="547.80" stroke="#231f20" stroke-width="0.8" />
<text x="162.00" y="550.00" font-size="6.2" stroke="#231f20" stroke-width="0.18" text-anchor="end" textLength="13.00" lengthAdjust="spacingAndGlyphs" >1.50</text>
<line x1="164.40" y1="541.35" x2="166.80" y2="541.35" stroke="#231f20" stroke-width="0.8" />
<text x="162.00" y="543.55" font-size="6.2" stroke="#231f20" stroke-width="0.18" text-anchor="end" textLength="13.00" lengthAdjust="spacingAndGlyphs" >1.75</text>
<line x1="164.40" y1="534.90" x2="166.80" y2="534.90" stroke="#231f20" stroke-width="0.8" />
<text x="162.00" y="537.10" font-size="6.2" stroke="#231f20" stroke-width="0.18" text-anchor="end" textLength="13.00" lengthAdjust="spacingAndGlyphs" >2.00</text>
<line x1="166.80" y1="586.50" x2="166.80" y2="588.90" stroke="#231f20" stroke-width="0.8" />
<text x="166.80" y="597.80" font-size="6.2" stroke="#231f20" stroke-width="0.18" text-anchor="middle" >0</text>
<line x1="186.35" y1="586.50" x2="186.35" y2="588.90" stroke="#231f20" stroke-width="0.8" />
<text x="186.35" y="597.80" font-size="6.2" stroke="#231f20" stroke-width="0.18" text-anchor="middle" >1</text>
<line x1="205.90" y1="586.50" x2="205.90" y2="588.90" stroke="#231f20" stroke-width="0.8" />
<text x="205.90" y="597.80" font-size="6.2" stroke="#231f20" stroke-width="0.18" text-anchor="middle" >10</text>
<line x1="225.45" y1="586.50" x2="225.45" y2="588.90" stroke="#231f20" stroke-width="0.8" />
<text x="225.45" y="597.80" font-size="6.2" stroke="#231f20" stroke-width="0.18" text-anchor="middle" >100</text>
<line x1="245.00" y1="586.50" x2="245.00" y2="588.90" stroke="#231f20" stroke-width="0.8" />
<text x="245.00" y="597.80" font-size="6.2" stroke="#231f20" stroke-width="0.18" text-anchor="middle" >1000</text>
<line x1="244.40" y1="537.40" x2="244.40" y2="584.00" stroke="#2a2a2a" stroke-width="0.85" />
<path d="M244.40 533.40l1.3 3.6h-2.6Z" fill="#333"/>
<path d="M244.40 586.80l1.3 -3.6h-2.6Z" fill="#333"/>
<text x="240.80" y="539.10" font-size="6.1" stroke="#444" stroke-width="0.18" text-anchor="end" fill="#444" >increased</text>
<text x="240.80" y="546.10" font-size="6.1" stroke="#444" stroke-width="0.18" text-anchor="end" fill="#444" >cytoprotection</text>
<text x="240.80" y="568.30" font-size="6.1" stroke="#444" stroke-width="0.18" text-anchor="end" fill="#444" >reduced</text>
<text x="240.80" y="575.20" font-size="6.1" stroke="#444" stroke-width="0.18" text-anchor="end" fill="#444" >cytoprotection</text>
<polyline points="166.80,560.70 182.70,552.96 192.24,554.51 201.65,546.51 211.45,552.96 220.86,586.50 230.27,582.37 239.68,584.44" fill="none" stroke="#2b2b33" stroke-width="0.9"/>
<circle cx="166.80" cy="560.70" r="0.95" fill="#1f3550"/>
<circle cx="182.70" cy="552.96" r="0.95" fill="#1f3550"/>
<circle cx="192.24" cy="554.51" r="0.95" fill="#1f3550"/>
<circle cx="201.65" cy="546.51" r="0.95" fill="#1f3550"/>
<circle cx="211.45" cy="552.96" r="0.95" fill="#1f3550"/>
<circle cx="220.86" cy="586.50" r="0.95" fill="#1f3550"/>
<circle cx="230.27" cy="582.37" r="0.95" fill="#1f3550"/>
<circle cx="239.68" cy="584.44" r="0.95" fill="#1f3550"/>
<text font-size="6.6" text-anchor="middle" textLength="57.8" lengthAdjust="spacingAndGlyphs" transform="translate(142.10,560.20) rotate(-90)" fill="#231f20" stroke="#231f20" stroke-width="0.32">R46/R41 cleavage ratio</text>
<text x="205.80" y="608.70" font-size="6.8" stroke="#231f20" stroke-width="0.3" text-anchor="middle" textLength="37.50" lengthAdjust="spacingAndGlyphs" >Nanobody (nM)</text>
<text x="268.80" y="414.60" font-size="10.2" stroke="#231f20" stroke-width="0.5" font-weight="bold" >D</text>
<text x="345.50" y="421.00" font-size="6.9" stroke="#231f20" stroke-width="0.18" text-anchor="middle" >LP11</text>
<line x1="306.50" y1="481.55" x2="306.50" y2="428.70" stroke="#231f20" stroke-width="0.95" />
<line x1="306.05" y1="481.10" x2="385.00" y2="481.10" stroke="#231f20" stroke-width="0.95" />
<line x1="304.10" y1="480.50" x2="306.50" y2="480.50" stroke="#231f20" stroke-width="0.8" />
<text x="301.20" y="482.70" font-size="6.2" stroke="#231f20" stroke-width="0.18" text-anchor="end" textLength="3.60" lengthAdjust="spacingAndGlyphs" >0</text>
<line x1="304.10" y1="472.12" x2="306.50" y2="472.12" stroke="#231f20" stroke-width="0.8" />
<text x="301.20" y="474.32" font-size="6.2" stroke="#231f20" stroke-width="0.18" text-anchor="end" textLength="7.20" lengthAdjust="spacingAndGlyphs" >25</text>
<line x1="304.10" y1="463.74" x2="306.50" y2="463.74" stroke="#231f20" stroke-width="0.8" />
<text x="301.20" y="465.94" font-size="6.2" stroke="#231f20" stroke-width="0.18" text-anchor="end" textLength="7.20" lengthAdjust="spacingAndGlyphs" >50</text>
<line x1="304.10" y1="455.35" x2="306.50" y2="455.35" stroke="#231f20" stroke-width="0.8" />
<text x="301.20" y="457.55" font-size="6.2" stroke="#231f20" stroke-width="0.18" text-anchor="end" textLength="7.20" lengthAdjust="spacingAndGlyphs" >75</text>
<line x1="304.10" y1="446.97" x2="306.50" y2="446.97" stroke="#231f20" stroke-width="0.8" />
<text x="301.20" y="449.17" font-size="6.2" stroke="#231f20" stroke-width="0.18" text-anchor="end" textLength="10.80" lengthAdjust="spacingAndGlyphs" >100</text>
<line x1="304.10" y1="438.59" x2="306.50" y2="438.59" stroke="#231f20" stroke-width="0.8" />
<text x="301.20" y="440.79" font-size="6.2" stroke="#231f20" stroke-width="0.18" text-anchor="end" textLength="10.80" lengthAdjust="spacingAndGlyphs" >125</text>
<line x1="304.10" y1="430.20" x2="306.50" y2="430.20" stroke="#231f20" stroke-width="0.8" />
<text x="301.20" y="432.40" font-size="6.2" stroke="#231f20" stroke-width="0.18" text-anchor="end" textLength="10.80" lengthAdjust="spacingAndGlyphs" >150</text>
<line x1="306.50" y1="481.10" x2="306.50" y2="483.50" stroke="#231f20" stroke-width="0.8" />
<text x="306.50" y="492.80" font-size="6.2" stroke="#231f20" stroke-width="0.18" text-anchor="middle" >0</text>
<line x1="326.00" y1="481.10" x2="326.00" y2="483.50" stroke="#231f20" stroke-width="0.8" />
<text x="326.00" y="492.80" font-size="6.2" stroke="#231f20" stroke-width="0.18" text-anchor="middle" >1</text>
<line x1="345.50" y1="481.10" x2="345.50" y2="483.50" stroke="#231f20" stroke-width="0.8" />
<text x="345.50" y="492.80" font-size="6.2" stroke="#231f20" stroke-width="0.18" text-anchor="middle" >10</text>
<line x1="365.00" y1="481.10" x2="365.00" y2="483.50" stroke="#231f20" stroke-width="0.8" />
<text x="365.00" y="492.80" font-size="6.2" stroke="#231f20" stroke-width="0.18" text-anchor="middle" >100</text>
<line x1="384.50" y1="481.10" x2="384.50" y2="483.50" stroke="#231f20" stroke-width="0.8" />
<text x="384.50" y="492.80" font-size="6.2" stroke="#231f20" stroke-width="0.18" text-anchor="middle" >1000</text>
<line x1="328.80" y1="433.00" x2="334.00" y2="433.00" stroke="#34495e" stroke-width="0.9" />
<circle cx="331.40" cy="433.00" r="0.9" fill="#1c3550"/>
<text x="336.80" y="435.20" font-size="6.4" stroke="#231f20" stroke-width="0.18" textLength="34.30" lengthAdjust="spacingAndGlyphs" >R41Q PAR1</text>
<line x1="328.80" y1="441.30" x2="334.00" y2="441.30" stroke="#8e3a44" stroke-width="0.9" />
<circle cx="331.40" cy="441.30" r="0.9" fill="#b0283a"/>
<text x="336.80" y="443.50" font-size="6.4" stroke="#231f20" stroke-width="0.18" textLength="34.30" lengthAdjust="spacingAndGlyphs" >R46Q PAR1</text>
<polyline points="306.50,446.97 322.36,462.39 331.88,466.75 341.27,468.09 351.05,466.75 360.44,466.42 369.82,462.39 379.21,461.39" fill="none" stroke="#8e3a44" stroke-width="0.95"/>
<circle cx="306.50" cy="446.97" r="1.0" fill="#b0283a"/>
<circle cx="322.36" cy="462.39" r="1.0" fill="#b0283a"/>
<circle cx="331.88" cy="466.75" r="1.0" fill="#b0283a"/>
<circle cx="341.27" cy="468.09" r="1.0" fill="#b0283a"/>
<circle cx="351.05" cy="466.75" r="1.0" fill="#b0283a"/>
<circle cx="360.44" cy="466.42" r="1.0" fill="#b0283a"/>
<path d="M369.82 461.72V463.06M368.82 461.72h2M368.82 463.06h2" stroke="#8e3a44" stroke-width="0.7" fill="none"/>
<circle cx="369.82" cy="462.39" r="1.0" fill="#b0283a"/>
<path d="M379.21 460.38V462.39M378.21 460.38h2M378.21 462.39h2" stroke="#8e3a44" stroke-width="0.7" fill="none"/>
<circle cx="379.21" cy="461.39" r="1.0" fill="#b0283a"/>
<polyline points="306.50,446.97 322.36,452.00 331.88,456.36 341.27,463.06 351.05,461.72 360.44,460.72 369.82,453.68 379.21,443.62" fill="none" stroke="#34495e" stroke-width="0.95"/>
<circle cx="306.50" cy="446.97" r="1.0" fill="#1c3550"/>
<path d="M322.36 449.32V454.68M321.36 449.32h2M321.36 454.68h2" stroke="#2a3440" stroke-width="0.7" fill="none"/>
<circle cx="322.36" cy="452.00" r="1.0" fill="#1c3550"/>
<path d="M331.88 453.68V459.04M330.88 453.68h2M330.88 459.04h2" stroke="#2a3440" stroke-width="0.7" fill="none"/>
<circle cx="331.88" cy="456.36" r="1.0" fill="#1c3550"/>
<path d="M341.27 462.06V464.07M340.27 462.06h2M340.27 464.07h2" stroke="#2a3440" stroke-width="0.7" fill="none"/>
<circle cx="341.27" cy="463.06" r="1.0" fill="#1c3550"/>
<path d="M351.05 461.05V462.39M350.05 461.05h2M350.05 462.39h2" stroke="#2a3440" stroke-width="0.7" fill="none"/>
<circle cx="351.05" cy="461.72" r="1.0" fill="#1c3550"/>
<path d="M360.44 459.71V461.72M359.44 459.71h2M359.44 461.72h2" stroke="#2a3440" stroke-width="0.7" fill="none"/>
<circle cx="360.44" cy="460.72" r="1.0" fill="#1c3550"/>
<path d="M369.82 453.01V454.35M368.82 453.01h2M368.82 454.35h2" stroke="#2a3440" stroke-width="0.7" fill="none"/>
<circle cx="369.82" cy="453.68" r="1.0" fill="#1c3550"/>
<path d="M379.21 440.26V446.97M378.21 440.26h2M378.21 446.97h2" stroke="#2a3440" stroke-width="0.7" fill="none"/>
<circle cx="379.21" cy="443.62" r="1.0" fill="#1c3550"/>
<text font-size="6.3" text-anchor="middle" textLength="56.5" lengthAdjust="spacingAndGlyphs" transform="translate(272.70,455.80) rotate(-90)" fill="#231f20" stroke="#231f20" stroke-width="0.28">Normalized SEAP-PAR1</text>
<text font-size="6.3" text-anchor="middle" textLength="31" lengthAdjust="spacingAndGlyphs" transform="translate(282.70,456.00) rotate(-90)" fill="#231f20" stroke="#231f20" stroke-width="0.28">cleavage (%)</text>
<text x="346.00" y="503.50" font-size="6.8" stroke="#231f20" stroke-width="0.3" text-anchor="middle" textLength="37.50" lengthAdjust="spacingAndGlyphs" >Nanobody (nM)</text>
<text x="466.30" y="421.20" font-size="6.9" stroke="#231f20" stroke-width="0.18" text-anchor="middle" >LP11</text>
<line x1="428.50" y1="455.50" x2="505.50" y2="455.50" stroke="#d5d5d5" stroke-width="1.0" />
<line x1="427.50" y1="481.75" x2="427.50" y2="428.20" stroke="#231f20" stroke-width="0.95" />
<line x1="427.05" y1="481.30" x2="506.10" y2="481.30" stroke="#231f20" stroke-width="0.95" />
<line x1="425.10" y1="481.30" x2="427.50" y2="481.30" stroke="#231f20" stroke-width="0.8" />
<text x="422.70" y="483.50" font-size="6.2" stroke="#231f20" stroke-width="0.18" text-anchor="end" textLength="13.00" lengthAdjust="spacingAndGlyphs" >0.00</text>
<line x1="425.10" y1="474.85" x2="427.50" y2="474.85" stroke="#231f20" stroke-width="0.8" />
<text x="422.70" y="477.05" font-size="6.2" stroke="#231f20" stroke-width="0.18" text-anchor="end" textLength="13.00" lengthAdjust="spacingAndGlyphs" >0.25</text>
<line x1="425.10" y1="468.40" x2="427.50" y2="468.40" stroke="#231f20" stroke-width="0.8" />
<text x="422.70" y="470.60" font-size="6.2" stroke="#231f20" stroke-width="0.18" text-anchor="end" textLength="13.00" lengthAdjust="spacingAndGlyphs" >0.50</text>
<line x1="425.10" y1="461.95" x2="427.50" y2="461.95" stroke="#231f20" stroke-width="0.8" />
<text x="422.70" y="464.15" font-size="6.2" stroke="#231f20" stroke-width="0.18" text-anchor="end" textLength="13.00" lengthAdjust="spacingAndGlyphs" >0.75</text>
<line x1="425.10" y1="455.50" x2="427.50" y2="455.50" stroke="#231f20" stroke-width="0.8" />
<text x="422.70" y="457.70" font-size="6.2" stroke="#231f20" stroke-width="0.18" text-anchor="end" textLength="13.00" lengthAdjust="spacingAndGlyphs" >1.00</text>
<line x1="425.10" y1="449.05" x2="427.50" y2="449.05" stroke="#231f20" stroke-width="0.8" />
<text x="422.70" y="451.25" font-size="6.2" stroke="#231f20" stroke-width="0.18" text-anchor="end" textLength="13.00" lengthAdjust="spacingAndGlyphs" >1.25</text>
<line x1="425.10" y1="442.60" x2="427.50" y2="442.60" stroke="#231f20" stroke-width="0.8" />
<text x="422.70" y="444.80" font-size="6.2" stroke="#231f20" stroke-width="0.18" text-anchor="end" textLength="13.00" lengthAdjust="spacingAndGlyphs" >1.50</text>
<line x1="425.10" y1="436.15" x2="427.50" y2="436.15" stroke="#231f20" stroke-width="0.8" />
<text x="422.70" y="438.35" font-size="6.2" stroke="#231f20" stroke-width="0.18" text-anchor="end" textLength="13.00" lengthAdjust="spacingAndGlyphs" >1.75</text>
<line x1="425.10" y1="429.70" x2="427.50" y2="429.70" stroke="#231f20" stroke-width="0.8" />
<text x="422.70" y="431.90" font-size="6.2" stroke="#231f20" stroke-width="0.18" text-anchor="end" textLength="13.00" lengthAdjust="spacingAndGlyphs" >2.00</text>
<line x1="427.50" y1="481.30" x2="427.50" y2="483.70" stroke="#231f20" stroke-width="0.8" />
<text x="427.50" y="492.60" font-size="6.2" stroke="#231f20" stroke-width="0.18" text-anchor="middle" >0</text>
<line x1="447.05" y1="481.30" x2="447.05" y2="483.70" stroke="#231f20" stroke-width="0.8" />
<text x="447.05" y="492.60" font-size="6.2" stroke="#231f20" stroke-width="0.18" text-anchor="middle" >1</text>
<line x1="466.60" y1="481.30" x2="466.60" y2="483.70" stroke="#231f20" stroke-width="0.8" />
<text x="466.60" y="492.60" font-size="6.2" stroke="#231f20" stroke-width="0.18" text-anchor="middle" >10</text>
<line x1="486.15" y1="481.30" x2="486.15" y2="483.70" stroke="#231f20" stroke-width="0.8" />
<text x="486.15" y="492.60" font-size="6.2" stroke="#231f20" stroke-width="0.18" text-anchor="middle" >100</text>
<line x1="505.70" y1="481.30" x2="505.70" y2="483.70" stroke="#231f20" stroke-width="0.8" />
<text x="505.70" y="492.60" font-size="6.2" stroke="#231f20" stroke-width="0.18" text-anchor="middle" >1000</text>
<line x1="505.10" y1="432.20" x2="505.10" y2="478.80" stroke="#2a2a2a" stroke-width="0.85" />
<path d="M505.10 428.20l1.3 3.6h-2.6Z" fill="#333"/>
<path d="M505.10 481.60l1.3 -3.6h-2.6Z" fill="#333"/>
<text x="501.50" y="445.40" font-size="6.1" stroke="#444" stroke-width="0.18" text-anchor="end" fill="#444" >increased</text>
<text x="501.50" y="452.40" font-size="6.1" stroke="#444" stroke-width="0.18" text-anchor="end" fill="#444" >cytoprotection</text>
<text x="501.50" y="464.50" font-size="6.1" stroke="#444" stroke-width="0.18" text-anchor="end" fill="#444" >reduced</text>
<text x="501.50" y="471.40" font-size="6.1" stroke="#444" stroke-width="0.18" text-anchor="end" fill="#444" >cytoprotection</text>
<polyline points="427.50,455.50 443.40,439.76 452.94,437.18 462.35,446.47 472.15,446.47 481.56,444.92 490.97,442.86 500.38,432.80" fill="none" stroke="#2b2b33" stroke-width="0.9"/>
<circle cx="427.50" cy="455.50" r="0.95" fill="#1f3550"/>
<circle cx="443.40" cy="439.76" r="0.95" fill="#1f3550"/>
<circle cx="452.94" cy="437.18" r="0.95" fill="#1f3550"/>
<circle cx="462.35" cy="446.47" r="0.95" fill="#1f3550"/>
<circle cx="472.15" cy="446.47" r="0.95" fill="#1f3550"/>
<circle cx="481.56" cy="444.92" r="0.95" fill="#1f3550"/>
<circle cx="490.97" cy="442.86" r="0.95" fill="#1f3550"/>
<circle cx="500.38" cy="432.80" r="0.95" fill="#1f3550"/>
<text font-size="6.6" text-anchor="middle" textLength="57.8" lengthAdjust="spacingAndGlyphs" transform="translate(402.80,455.00) rotate(-90)" fill="#231f20" stroke="#231f20" stroke-width="0.32">R46/R41 cleavage ratio</text>
<text x="466.50" y="503.50" font-size="6.8" stroke="#231f20" stroke-width="0.3" text-anchor="middle" textLength="37.50" lengthAdjust="spacingAndGlyphs" >Nanobody (nM)</text>
<text x="346.00" y="526.70" font-size="6.9" stroke="#231f20" stroke-width="0.18" text-anchor="middle" >LP18</text>
<line x1="306.50" y1="586.85" x2="306.50" y2="534.00" stroke="#231f20" stroke-width="0.95" />
<line x1="306.05" y1="586.40" x2="385.00" y2="586.40" stroke="#231f20" stroke-width="0.95" />
<line x1="304.10" y1="585.80" x2="306.50" y2="585.80" stroke="#231f20" stroke-width="0.8" />
<text x="301.20" y="588.00" font-size="6.2" stroke="#231f20" stroke-width="0.18" text-anchor="end" textLength="3.60" lengthAdjust="spacingAndGlyphs" >0</text>
<line x1="304.10" y1="577.42" x2="306.50" y2="577.42" stroke="#231f20" stroke-width="0.8" />
<text x="301.20" y="579.62" font-size="6.2" stroke="#231f20" stroke-width="0.18" text-anchor="end" textLength="7.20" lengthAdjust="spacingAndGlyphs" >25</text>
<line x1="304.10" y1="569.03" x2="306.50" y2="569.03" stroke="#231f20" stroke-width="0.8" />
<text x="301.20" y="571.24" font-size="6.2" stroke="#231f20" stroke-width="0.18" text-anchor="end" textLength="7.20" lengthAdjust="spacingAndGlyphs" >50</text>
<line x1="304.10" y1="560.65" x2="306.50" y2="560.65" stroke="#231f20" stroke-width="0.8" />
<text x="301.20" y="562.85" font-size="6.2" stroke="#231f20" stroke-width="0.18" text-anchor="end" textLength="7.20" lengthAdjust="spacingAndGlyphs" >75</text>
<line x1="304.10" y1="552.27" x2="306.50" y2="552.27" stroke="#231f20" stroke-width="0.8" />
<text x="301.20" y="554.47" font-size="6.2" stroke="#231f20" stroke-width="0.18" text-anchor="end" textLength="10.80" lengthAdjust="spacingAndGlyphs" >100</text>
<line x1="304.10" y1="543.89" x2="306.50" y2="543.89" stroke="#231f20" stroke-width="0.8" />
<text x="301.20" y="546.09" font-size="6.2" stroke="#231f20" stroke-width="0.18" text-anchor="end" textLength="10.80" lengthAdjust="spacingAndGlyphs" >125</text>
<line x1="304.10" y1="535.50" x2="306.50" y2="535.50" stroke="#231f20" stroke-width="0.8" />
<text x="301.20" y="537.71" font-size="6.2" stroke="#231f20" stroke-width="0.18" text-anchor="end" textLength="10.80" lengthAdjust="spacingAndGlyphs" >150</text>
<line x1="306.50" y1="586.40" x2="306.50" y2="588.80" stroke="#231f20" stroke-width="0.8" />
<text x="306.50" y="598.10" font-size="6.2" stroke="#231f20" stroke-width="0.18" text-anchor="middle" >0</text>
<line x1="326.00" y1="586.40" x2="326.00" y2="588.80" stroke="#231f20" stroke-width="0.8" />
<text x="326.00" y="598.10" font-size="6.2" stroke="#231f20" stroke-width="0.18" text-anchor="middle" >1</text>
<line x1="345.50" y1="586.40" x2="345.50" y2="588.80" stroke="#231f20" stroke-width="0.8" />
<text x="345.50" y="598.10" font-size="6.2" stroke="#231f20" stroke-width="0.18" text-anchor="middle" >10</text>
<line x1="365.00" y1="586.40" x2="365.00" y2="588.80" stroke="#231f20" stroke-width="0.8" />
<text x="365.00" y="598.10" font-size="6.2" stroke="#231f20" stroke-width="0.18" text-anchor="middle" >100</text>
<line x1="384.50" y1="586.40" x2="384.50" y2="588.80" stroke="#231f20" stroke-width="0.8" />
<text x="384.50" y="598.10" font-size="6.2" stroke="#231f20" stroke-width="0.18" text-anchor="middle" >1000</text>
<line x1="341.00" y1="533.50" x2="346.20" y2="533.50" stroke="#34495e" stroke-width="0.9" />
<circle cx="343.60" cy="533.50" r="0.9" fill="#1c3550"/>
<text x="349.00" y="535.70" font-size="6.4" stroke="#231f20" stroke-width="0.18" textLength="34.30" lengthAdjust="spacingAndGlyphs" >R41Q PAR1</text>
<line x1="341.00" y1="541.80" x2="346.20" y2="541.80" stroke="#8e3a44" stroke-width="0.9" />
<circle cx="343.60" cy="541.80" r="0.9" fill="#b0283a"/>
<text x="349.00" y="544.00" font-size="6.4" stroke="#231f20" stroke-width="0.18" textLength="34.30" lengthAdjust="spacingAndGlyphs" >R46Q PAR1</text>
<polyline points="306.50,552.27 322.36,563.00 331.88,569.37 341.27,571.38 351.05,570.38 360.44,565.68 369.82,564.34 379.21,560.65" fill="none" stroke="#8e3a44" stroke-width="0.95"/>
<circle cx="306.50" cy="552.27" r="1.0" fill="#b0283a"/>
<path d="M322.36 562.33V563.67M321.36 562.33h2M321.36 563.67h2" stroke="#8e3a44" stroke-width="0.7" fill="none"/>
<circle cx="322.36" cy="563.00" r="1.0" fill="#b0283a"/>
<circle cx="331.88" cy="569.37" r="1.0" fill="#b0283a"/>
<circle cx="341.27" cy="571.38" r="1.0" fill="#b0283a"/>
<circle cx="351.05" cy="570.38" r="1.0" fill="#b0283a"/>
<path d="M360.44 565.01V566.35M359.44 565.01h2M359.44 566.35h2" stroke="#8e3a44" stroke-width="0.7" fill="none"/>
<circle cx="360.44" cy="565.68" r="1.0" fill="#b0283a"/>
<path d="M369.82 563.67V565.01M368.82 563.67h2M368.82 565.01h2" stroke="#8e3a44" stroke-width="0.7" fill="none"/>
<circle cx="369.82" cy="564.34" r="1.0" fill="#b0283a"/>
<path d="M379.21 559.98V561.32M378.21 559.98h2M378.21 561.32h2" stroke="#8e3a44" stroke-width="0.7" fill="none"/>
<circle cx="379.21" cy="560.65" r="1.0" fill="#b0283a"/>
<polyline points="306.50,552.27 322.36,555.62 331.88,557.97 341.27,561.99 351.05,561.99 360.44,560.65 369.82,556.29 379.21,549.92" fill="none" stroke="#34495e" stroke-width="0.95"/>
<circle cx="306.50" cy="552.27" r="1.0" fill="#1c3550"/>
<path d="M322.36 552.94V558.31M321.36 552.94h2M321.36 558.31h2" stroke="#2a3440" stroke-width="0.7" fill="none"/>
<circle cx="322.36" cy="555.62" r="1.0" fill="#1c3550"/>
<path d="M331.88 555.96V559.98M330.88 555.96h2M330.88 559.98h2" stroke="#2a3440" stroke-width="0.7" fill="none"/>
<circle cx="331.88" cy="557.97" r="1.0" fill="#1c3550"/>
<path d="M341.27 560.32V563.67M340.27 560.32h2M340.27 563.67h2" stroke="#2a3440" stroke-width="0.7" fill="none"/>
<circle cx="341.27" cy="561.99" r="1.0" fill="#1c3550"/>
<path d="M351.05 559.98V564.01M350.05 559.98h2M350.05 564.01h2" stroke="#2a3440" stroke-width="0.7" fill="none"/>
<circle cx="351.05" cy="561.99" r="1.0" fill="#1c3550"/>
<path d="M360.44 558.64V562.66M359.44 558.64h2M359.44 562.66h2" stroke="#2a3440" stroke-width="0.7" fill="none"/>
<circle cx="360.44" cy="560.65" r="1.0" fill="#1c3550"/>
<path d="M369.82 555.62V556.96M368.82 555.62h2M368.82 556.96h2" stroke="#2a3440" stroke-width="0.7" fill="none"/>
<circle cx="369.82" cy="556.29" r="1.0" fill="#1c3550"/>
<path d="M379.21 548.25V551.60M378.21 548.25h2M378.21 551.60h2" stroke="#2a3440" stroke-width="0.7" fill="none"/>
<circle cx="379.21" cy="549.92" r="1.0" fill="#1c3550"/>
<text font-size="6.3" text-anchor="middle" textLength="56.5" lengthAdjust="spacingAndGlyphs" transform="translate(272.70,561.10) rotate(-90)" fill="#231f20" stroke="#231f20" stroke-width="0.28">Normalized SEAP-PAR1</text>
<text font-size="6.3" text-anchor="middle" textLength="31" lengthAdjust="spacingAndGlyphs" transform="translate(282.70,561.30) rotate(-90)" fill="#231f20" stroke="#231f20" stroke-width="0.28">cleavage (%)</text>
<text x="346.00" y="608.80" font-size="6.8" stroke="#231f20" stroke-width="0.3" text-anchor="middle" textLength="37.50" lengthAdjust="spacingAndGlyphs" >Nanobody (nM)</text>
<text x="466.30" y="526.60" font-size="6.9" stroke="#231f20" stroke-width="0.18" text-anchor="middle" >LP18</text>
<line x1="428.50" y1="560.50" x2="505.50" y2="560.50" stroke="#d5d5d5" stroke-width="1.0" />
<line x1="427.50" y1="586.75" x2="427.50" y2="533.20" stroke="#231f20" stroke-width="0.95" />
<line x1="427.05" y1="586.30" x2="506.10" y2="586.30" stroke="#231f20" stroke-width="0.95" />
<line x1="425.10" y1="586.30" x2="427.50" y2="586.30" stroke="#231f20" stroke-width="0.8" />
<text x="422.70" y="588.50" font-size="6.2" stroke="#231f20" stroke-width="0.18" text-anchor="end" textLength="13.00" lengthAdjust="spacingAndGlyphs" >0.00</text>
<line x1="425.10" y1="579.85" x2="427.50" y2="579.85" stroke="#231f20" stroke-width="0.8" />
<text x="422.70" y="582.05" font-size="6.2" stroke="#231f20" stroke-width="0.18" text-anchor="end" textLength="13.00" lengthAdjust="spacingAndGlyphs" >0.25</text>
<line x1="425.10" y1="573.40" x2="427.50" y2="573.40" stroke="#231f20" stroke-width="0.8" />
<text x="422.70" y="575.60" font-size="6.2" stroke="#231f20" stroke-width="0.18" text-anchor="end" textLength="13.00" lengthAdjust="spacingAndGlyphs" >0.50</text>
<line x1="425.10" y1="566.95" x2="427.50" y2="566.95" stroke="#231f20" stroke-width="0.8" />
<text x="422.70" y="569.15" font-size="6.2" stroke="#231f20" stroke-width="0.18" text-anchor="end" textLength="13.00" lengthAdjust="spacingAndGlyphs" >0.75</text>
<line x1="425.10" y1="560.50" x2="427.50" y2="560.50" stroke="#231f20" stroke-width="0.8" />
<text x="422.70" y="562.70" font-size="6.2" stroke="#231f20" stroke-width="0.18" text-anchor="end" textLength="13.00" lengthAdjust="spacingAndGlyphs" >1.00</text>
<line x1="425.10" y1="554.05" x2="427.50" y2="554.05" stroke="#231f20" stroke-width="0.8" />
<text x="422.70" y="556.25" font-size="6.2" stroke="#231f20" stroke-width="0.18" text-anchor="end" textLength="13.00" lengthAdjust="spacingAndGlyphs" >1.25</text>
<line x1="425.10" y1="547.60" x2="427.50" y2="547.60" stroke="#231f20" stroke-width="0.8" />
<text x="422.70" y="549.80" font-size="6.2" stroke="#231f20" stroke-width="0.18" text-anchor="end" textLength="13.00" lengthAdjust="spacingAndGlyphs" >1.50</text>
<line x1="425.10" y1="541.15" x2="427.50" y2="541.15" stroke="#231f20" stroke-width="0.8" />
<text x="422.70" y="543.35" font-size="6.2" stroke="#231f20" stroke-width="0.18" text-anchor="end" textLength="13.00" lengthAdjust="spacingAndGlyphs" >1.75</text>
<line x1="425.10" y1="534.70" x2="427.50" y2="534.70" stroke="#231f20" stroke-width="0.8" />
<text x="422.70" y="536.90" font-size="6.2" stroke="#231f20" stroke-width="0.18" text-anchor="end" textLength="13.00" lengthAdjust="spacingAndGlyphs" >2.00</text>
<line x1="427.50" y1="586.30" x2="427.50" y2="588.70" stroke="#231f20" stroke-width="0.8" />
<text x="427.50" y="597.60" font-size="6.2" stroke="#231f20" stroke-width="0.18" text-anchor="middle" >0</text>
<line x1="447.05" y1="586.30" x2="447.05" y2="588.70" stroke="#231f20" stroke-width="0.8" />
<text x="447.05" y="597.60" font-size="6.2" stroke="#231f20" stroke-width="0.18" text-anchor="middle" >1</text>
<line x1="466.60" y1="586.30" x2="466.60" y2="588.70" stroke="#231f20" stroke-width="0.8" />
<text x="466.60" y="597.60" font-size="6.2" stroke="#231f20" stroke-width="0.18" text-anchor="middle" >10</text>
<line x1="486.15" y1="586.30" x2="486.15" y2="588.70" stroke="#231f20" stroke-width="0.8" />
<text x="486.15" y="597.60" font-size="6.2" stroke="#231f20" stroke-width="0.18" text-anchor="middle" >100</text>
<line x1="505.70" y1="586.30" x2="505.70" y2="588.70" stroke="#231f20" stroke-width="0.8" />
<text x="505.70" y="597.60" font-size="6.2" stroke="#231f20" stroke-width="0.18" text-anchor="middle" >1000</text>
<line x1="505.10" y1="537.20" x2="505.10" y2="583.80" stroke="#2a2a2a" stroke-width="0.85" />
<path d="M505.10 533.20l1.3 3.6h-2.6Z" fill="#333"/>
<path d="M505.10 586.60l1.3 -3.6h-2.6Z" fill="#333"/>
<text x="501.50" y="535.90" font-size="6.1" stroke="#444" stroke-width="0.18" text-anchor="end" fill="#444" >increased</text>
<text x="501.50" y="542.90" font-size="6.1" stroke="#444" stroke-width="0.18" text-anchor="end" fill="#444" >cytoprotection</text>
<text x="501.50" y="573.30" font-size="6.1" stroke="#444" stroke-width="0.18" text-anchor="end" fill="#444" >reduced</text>
<text x="501.50" y="580.20" font-size="6.1" stroke="#444" stroke-width="0.18" text-anchor="end" fill="#444" >cytoprotection</text>
<polyline points="427.50,560.50 443.40,553.53 452.94,543.47 462.35,543.47 472.15,546.05 481.56,553.53 490.97,550.44 500.38,549.15" fill="none" stroke="#2b2b33" stroke-width="0.9"/>
<circle cx="427.50" cy="560.50" r="0.95" fill="#1f3550"/>
<circle cx="443.40" cy="553.53" r="0.95" fill="#1f3550"/>
<circle cx="452.94" cy="543.47" r="0.95" fill="#1f3550"/>
<circle cx="462.35" cy="543.47" r="0.95" fill="#1f3550"/>
<circle cx="472.15" cy="546.05" r="0.95" fill="#1f3550"/>
<circle cx="481.56" cy="553.53" r="0.95" fill="#1f3550"/>
<circle cx="490.97" cy="550.44" r="0.95" fill="#1f3550"/>
<circle cx="500.38" cy="549.15" r="0.95" fill="#1f3550"/>
<text font-size="6.6" text-anchor="middle" textLength="57.8" lengthAdjust="spacingAndGlyphs" transform="translate(402.80,560.00) rotate(-90)" fill="#231f20" stroke="#231f20" stroke-width="0.32">R46/R41 cleavage ratio</text>
<text x="466.50" y="608.50" font-size="6.8" stroke="#231f20" stroke-width="0.3" text-anchor="middle" textLength="37.50" lengthAdjust="spacingAndGlyphs" >Nanobody (nM)</text>
<rect x="0.5" y="0.5" width="519" height="617" fill="none" stroke="#6a6a6a" stroke-width="1"/>
</svg>
</body></html>
